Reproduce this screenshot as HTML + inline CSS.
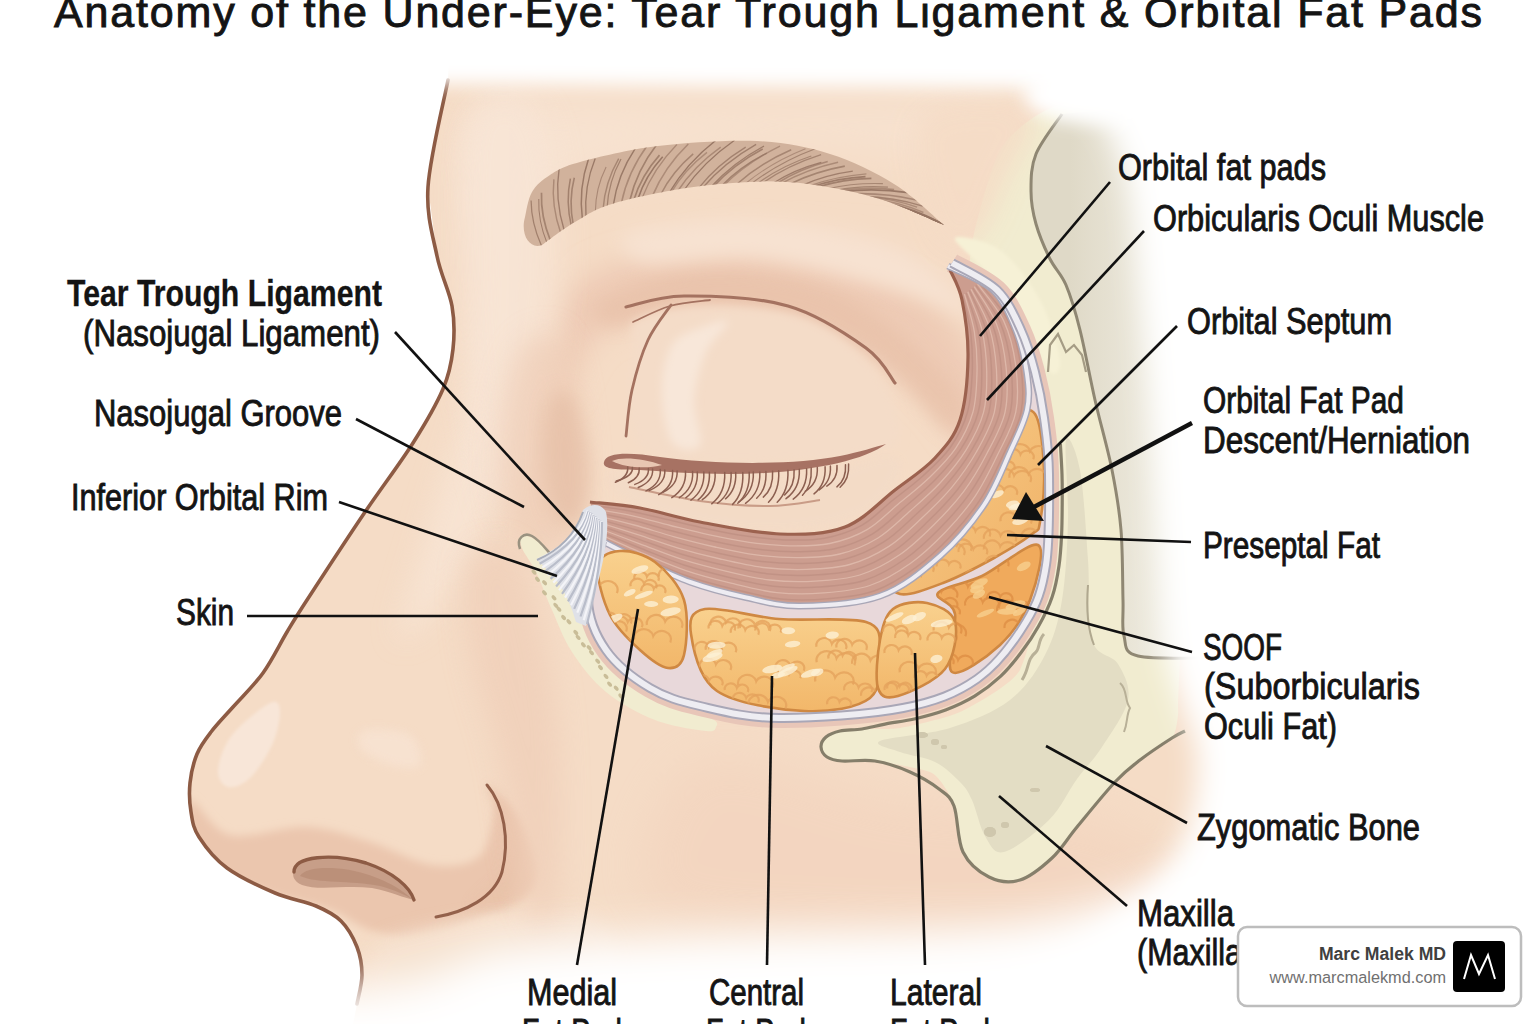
<!DOCTYPE html>
<html><head><meta charset="utf-8"><style>
html,body{margin:0;padding:0;background:#fff;width:1536px;height:1024px;overflow:hidden}
svg{display:block}
</style></head><body>
<svg width="1536" height="1024" viewBox="0 0 1536 1024">
<rect width="1536" height="1024" fill="#fff"/>
<defs>
<clipPath id="skinclip"><path d="M2000,-100 L448,-100 L450,20 L448,80 L428,187 L437,256 L452,306 L453,349 L443,389 L413,443 L363,515 L307,600 L287,632 L263,673 L233,707 L211,732 L197,754 L190,783 L191,812 L199,837 L227,868 L275,893 L316,906 L341,921 L357,947 L362,975 L357,1004 L350,1040 L2000,1100 Z"/></clipPath>
<filter id="b30" x="-50%" y="-50%" width="200%" height="200%"><feGaussianBlur stdDeviation="22"/></filter>
<filter id="b16" x="-50%" y="-50%" width="200%" height="200%"><feGaussianBlur stdDeviation="14"/></filter>
<filter id="b10" x="-30%" y="-30%" width="160%" height="160%"><feGaussianBlur stdDeviation="9"/></filter>
<filter id="b5" x="-30%" y="-30%" width="160%" height="160%"><feGaussianBlur stdDeviation="4"/></filter>
<filter id="b2" x="-30%" y="-30%" width="160%" height="160%"><feGaussianBlur stdDeviation="1.5"/></filter>
<linearGradient id="ug" gradientUnits="userSpaceOnUse" x1="1070" y1="0" x2="1170" y2="0"><stop offset="0" stop-color="#dfd9c7"/><stop offset="1" stop-color="#f0ede2"/></linearGradient>
<linearGradient id="fatg" x1="0" y1="0" x2="0" y2="1"><stop offset="0" stop-color="#f9d18e"/><stop offset="1" stop-color="#f2b76a"/></linearGradient>
<linearGradient id="fatg2" x1="0" y1="0" x2="1" y2="1"><stop offset="0" stop-color="#f8cf8c"/><stop offset="1" stop-color="#f0b065"/></linearGradient>
</defs>
<g clip-path="url(#skinclip)">
<rect x="0" y="0" width="1300" height="1024" fill="#f5dcc6"/>
<path d="M480.0,110.0 C516.7,83.3 616.7,100.0 700.0,100.0 C783.3,100.0 926.7,98.3 980.0,110.0 C1033.3,121.7 1025.0,161.7 1020.0,170.0 C1015.0,178.3 993.3,163.3 950.0,160.0 C906.7,156.7 825.0,145.0 760.0,150.0 C695.0,155.0 606.7,171.7 560.0,190.0 C513.3,208.3 493.3,273.3 480.0,260.0 C466.7,246.7 443.3,136.7 480.0,110.0Z" fill="#f7e2d0" filter="url(#b30)"/>
<path d="M470.0,130.0 C476.7,108.3 510.0,98.3 520.0,120.0 C530.0,141.7 530.8,208.3 530.0,260.0 C529.2,311.7 525.0,380.0 515.0,430.0 C505.0,480.0 489.2,525.0 470.0,560.0 C450.8,595.0 406.7,646.7 400.0,640.0 C393.3,633.3 418.3,563.3 430.0,520.0 C441.7,476.7 461.7,425.0 470.0,380.0 C478.3,335.0 480.0,291.7 480.0,250.0 C480.0,208.3 463.3,151.7 470.0,130.0Z" fill="#f8e5d5" filter="url(#b16)" opacity="0.8"/>
<path d="M570.0,290.0 C591.7,265.0 646.7,255.3 690.0,250.0 C733.3,244.7 790.0,249.7 830.0,258.0 C870.0,266.3 904.2,279.7 930.0,300.0 C955.8,320.3 977.5,355.0 985.0,380.0 C992.5,405.0 985.8,448.3 975.0,450.0 C964.2,451.7 945.8,410.0 920.0,390.0 C894.2,370.0 856.7,343.0 820.0,330.0 C783.3,317.0 736.7,311.2 700.0,312.0 C663.3,312.8 623.3,320.3 600.0,335.0 C576.7,349.7 565.0,407.5 560.0,400.0 C555.0,392.5 548.3,315.0 570.0,290.0Z" fill="#eecbb5" filter="url(#b16)"/>
<path d="M600.0,302.0 C613.0,293.0 656.7,275.7 690.0,272.0 C723.3,268.3 768.3,272.3 800.0,280.0 C831.7,287.7 853.3,298.7 880.0,318.0 C906.7,337.3 948.3,377.0 960.0,396.0 C971.7,415.0 963.3,437.7 950.0,432.0 C936.7,426.3 906.7,381.0 880.0,362.0 C853.3,343.0 821.7,327.3 790.0,318.0 C758.3,308.7 719.7,304.7 690.0,306.0 C660.3,307.3 627.0,326.7 612.0,326.0 C597.0,325.3 587.0,311.0 600.0,302.0Z" fill="#e8c1a9" filter="url(#b10)" opacity="0.75"/>
<path d="M470.0,110.0 C483.3,86.7 525.0,86.7 540.0,110.0 C555.0,133.3 560.0,198.3 560.0,250.0 C560.0,301.7 550.0,375.0 540.0,420.0 C530.0,465.0 511.7,523.3 500.0,520.0 C488.3,516.7 476.7,445.0 470.0,400.0 C463.3,355.0 460.0,298.3 460.0,250.0 C460.0,201.7 456.7,133.3 470.0,110.0Z" fill="#f8e5d6" filter="url(#b16)" opacity="0.7"/>
<path d="M630.0,232.0 C649.2,225.0 715.0,217.0 760.0,220.0 C805.0,223.0 864.2,233.7 900.0,250.0 C935.8,266.3 974.2,311.0 975.0,318.0 C975.8,325.0 940.8,302.0 905.0,292.0 C869.2,282.0 803.3,263.0 760.0,258.0 C716.7,253.0 666.7,266.3 645.0,262.0 C623.3,257.7 610.8,239.0 630.0,232.0Z" fill="#f7e2d1" filter="url(#b10)"/>
<path d="M640.0,318.0 C654.7,310.3 691.7,305.7 720.0,306.0 C748.3,306.3 784.0,309.3 810.0,320.0 C836.0,330.7 861.0,351.7 876.0,370.0 C891.0,388.3 899.3,416.3 900.0,430.0 C900.7,443.7 900.0,446.7 880.0,452.0 C860.0,457.3 816.7,461.0 780.0,462.0 C743.3,463.0 685.0,465.0 660.0,458.0 C635.0,451.0 634.7,437.7 630.0,420.0 C625.3,402.3 630.3,369.0 632.0,352.0 C633.7,335.0 625.3,325.7 640.0,318.0Z" fill="#f4dcc8" filter="url(#b5)"/>
<path d="M700.0,328.0 C709.3,324.2 727.0,318.0 728.0,322.0 C729.0,326.0 711.7,339.0 706.0,352.0 C700.3,365.0 695.0,384.5 694.0,400.0 C693.0,415.5 703.7,438.0 700.0,445.0 C696.3,452.0 678.3,451.2 672.0,442.0 C665.7,432.8 662.0,406.2 662.0,390.0 C662.0,373.8 665.7,355.3 672.0,345.0 C678.3,334.7 690.7,331.8 700.0,328.0Z" fill="#f8e7d9" filter="url(#b5)"/>
<path d="M610.0,475.0 C618.3,470.3 668.3,480.8 700.0,482.0 C731.7,483.2 770.0,486.0 800.0,482.0 C830.0,478.0 863.3,460.0 880.0,458.0 C896.7,456.0 903.3,460.5 900.0,470.0 C896.7,479.5 883.3,505.0 860.0,515.0 C836.7,525.0 795.0,530.8 760.0,530.0 C725.0,529.2 675.0,519.2 650.0,510.0 C625.0,500.8 601.7,479.7 610.0,475.0Z" fill="#f3dbc7" filter="url(#b5)" opacity="0.9"/>
<path d="M520.0,350.0 C530.0,335.0 550.0,326.7 560.0,340.0 C570.0,353.3 576.7,400.0 580.0,430.0 C583.3,460.0 586.7,498.3 580.0,520.0 C573.3,541.7 552.5,560.0 540.0,560.0 C527.5,560.0 511.7,541.7 505.0,520.0 C498.3,498.3 497.5,458.3 500.0,430.0 C502.5,401.7 510.0,365.0 520.0,350.0Z" fill="#edc9b2" filter="url(#b16)" opacity="0.6"/>
<path d="M548.0,405.0 C552.7,392.5 565.3,385.8 572.0,395.0 C578.7,404.2 586.3,440.0 588.0,460.0 C589.7,480.0 587.0,505.0 582.0,515.0 C577.0,525.0 564.3,527.5 558.0,520.0 C551.7,512.5 545.7,489.2 544.0,470.0 C542.3,450.8 543.3,417.5 548.0,405.0Z" fill="#e6c0a7" filter="url(#b10)" opacity="0.8"/>
<path d="M270.0,703.0 C278.0,699.2 279.7,705.0 280.0,712.0 C280.3,719.0 277.0,734.0 272.0,745.0 C267.0,756.0 257.3,771.0 250.0,778.0 C242.7,785.0 233.3,788.3 228.0,787.0 C222.7,785.7 217.3,778.7 218.0,770.0 C218.7,761.3 223.3,746.2 232.0,735.0 C240.7,723.8 262.0,706.8 270.0,703.0Z" fill="#f8e6d8" filter="url(#b2)"/>
<path d="M365.0,730.0 C373.3,727.8 400.8,729.2 410.0,735.0 C419.2,740.8 423.3,760.0 420.0,765.0 C416.7,770.0 400.0,767.8 390.0,765.0 C380.0,762.2 364.2,753.8 360.0,748.0 C355.8,742.2 356.7,732.2 365.0,730.0Z" fill="#f8e4d4" filter="url(#b5)" opacity="0.7"/>
<path d="M190.0,800.0 C195.0,795.8 210.5,830.5 230.0,835.0 C249.5,839.5 283.7,825.8 307.0,827.0 C330.3,828.2 349.0,835.7 370.0,842.0 C391.0,848.3 414.5,862.8 433.0,865.0 C451.5,867.2 469.8,865.8 481.0,855.0 C492.2,844.2 493.5,800.8 500.0,800.0 C506.5,799.2 520.0,832.5 520.0,850.0 C520.0,867.5 516.7,890.8 500.0,905.0 C483.3,919.2 441.7,930.8 420.0,935.0 C398.3,939.2 385.0,934.2 370.0,930.0 C355.0,925.8 348.3,916.7 330.0,910.0 C311.7,903.3 281.7,898.3 260.0,890.0 C238.3,881.7 211.7,875.0 200.0,860.0 C188.3,845.0 185.0,804.2 190.0,800.0Z" fill="#ebc6ae" filter="url(#b5)"/>
<path d="M487.0,785.0 C489.5,783.3 512.0,804.2 520.0,820.0 C528.0,835.8 537.5,865.0 535.0,880.0 C532.5,895.0 515.8,905.8 505.0,910.0 C494.2,914.2 470.8,911.7 470.0,905.0 C469.2,898.3 494.2,882.5 500.0,870.0 C505.8,857.5 507.2,844.2 505.0,830.0 C502.8,815.8 484.5,786.7 487.0,785.0Z" fill="#e9c3aa" filter="url(#b5)" opacity="0.85"/>
<path d="M375.0,950.0 C381.7,938.3 395.8,935.8 420.0,930.0 C444.2,924.2 490.0,916.7 520.0,915.0 C550.0,913.3 586.7,905.8 600.0,920.0 C613.3,934.2 636.7,986.7 600.0,1000.0 C563.3,1013.3 417.5,1008.3 380.0,1000.0 C342.5,991.7 368.3,961.7 375.0,950.0Z" fill="#f6e1cf" filter="url(#b10)" opacity="0.9"/>
<path d="M470.0,560.0 C478.3,545.0 505.8,536.7 520.0,560.0 C534.2,583.3 548.3,650.0 555.0,700.0 C561.7,750.0 561.7,821.7 560.0,860.0 C558.3,898.3 551.7,926.7 545.0,930.0 C538.3,933.3 527.5,908.3 520.0,880.0 C512.5,851.7 508.3,798.3 500.0,760.0 C491.7,721.7 475.0,683.3 470.0,650.0 C465.0,616.7 461.7,575.0 470.0,560.0Z" fill="#efcdb7" filter="url(#b16)" opacity="0.7"/>
<path d="M700.0,760.0 C741.7,743.3 833.3,790.0 900.0,800.0 C966.7,810.0 1053.3,806.7 1100.0,820.0 C1146.7,833.3 1180.0,861.7 1180.0,880.0 C1180.0,898.3 1155.0,921.7 1100.0,930.0 C1045.0,938.3 925.0,935.0 850.0,930.0 C775.0,925.0 675.0,928.3 650.0,900.0 C625.0,871.7 658.3,776.7 700.0,760.0Z" fill="#f1cdb8" filter="url(#b30)" opacity="0.4"/>
</g>
<path d="M970.0,262.0 C969.0,244.0 991.0,165.7 1000.0,150.0 C1009.0,134.3 1039.0,109.5 1060.0,105.0 C1081.0,100.5 1198.0,49.5 1210.0,105.0 C1222.0,160.5 1183.2,599.0 1180.0,660.0 C1176.8,721.0 1178.8,707.2 1178.0,715.0 C1177.2,722.8 1175.8,733.5 1172.0,738.0 C1168.2,742.5 1145.7,755.6 1140.0,760.0 C1134.3,764.4 1121.3,775.3 1115.0,782.0 C1108.7,788.7 1083.3,819.4 1077.0,827.0 C1070.7,834.6 1057.7,852.7 1052.0,858.0 C1046.3,863.3 1026.3,878.1 1020.0,880.0 C1013.7,881.9 994.7,879.8 989.0,877.0 C983.3,874.2 966.5,859.3 963.0,852.0 C959.5,844.7 957.1,811.9 954.0,804.0 C950.9,796.1 939.9,777.3 932.0,773.0 C924.1,768.7 884.0,762.2 875.0,761.0 C866.0,759.8 846.8,761.4 842.0,761.0 C837.2,760.6 829.1,758.4 827.0,757.0 C824.9,755.6 821.1,749.0 821.0,747.0 C820.9,745.0 824.1,738.6 826.0,737.0 C827.9,735.4 836.4,731.8 840.0,731.0 C843.6,730.2 856.0,729.3 862.0,729.0 C868.0,728.7 890.2,729.7 900.0,728.0 C909.8,726.3 948.0,717.8 960.0,712.0 C972.0,706.2 1011.2,685.2 1020.0,670.0 C1028.8,654.8 1045.2,580.0 1048.0,560.0 C1050.8,540.0 1048.8,486.0 1048.0,470.0 C1047.2,454.0 1043.8,414.0 1040.0,400.0 C1036.2,386.0 1017.0,343.8 1010.0,330.0 C1003.0,316.2 971.0,280.0 970.0,262.0Z" fill="#f1ecd0"/>
<path d="M920.0,120.0 C935.0,99.2 1015.8,100.0 1030.0,110.0 C1044.2,120.0 1014.2,158.3 1005.0,180.0 C995.8,201.7 985.8,230.8 975.0,240.0 C964.2,249.2 949.2,255.0 940.0,235.0 C930.8,215.0 905.0,140.8 920.0,120.0Z" fill="#f5dcc6" filter="url(#b16)" opacity="0.9"/>
<path d="M1062.0,114.0 C1057.7,120.7 1041.2,141.2 1036.0,154.0 C1030.8,166.8 1031.0,179.3 1031.0,191.0 C1031.0,202.7 1032.8,212.7 1036.0,224.0 C1039.2,235.3 1045.0,248.8 1050.0,259.0 C1055.0,269.2 1061.0,273.2 1066.0,285.0 C1071.0,296.8 1075.2,310.8 1080.0,330.0 C1084.8,349.2 1089.7,376.7 1095.0,400.0 C1100.3,423.3 1107.7,448.3 1112.0,470.0 C1116.3,491.7 1119.2,508.3 1121.0,530.0 C1122.8,551.7 1122.5,582.3 1123.0,600.0 C1123.5,617.7 1121.5,626.7 1124.0,636.0 C1126.5,645.3 1122.8,652.3 1138.0,656.0 C1153.2,659.7 1202.2,657.7 1215.0,658.0 L1215,100 Z" fill="url(#ug)"/>
<path d="M1062.0,114.0 C1057.7,120.7 1041.2,141.2 1036.0,154.0 C1030.8,166.8 1031.0,179.3 1031.0,191.0 C1031.0,202.7 1032.8,212.7 1036.0,224.0 C1039.2,235.3 1045.0,248.8 1050.0,259.0 C1055.0,269.2 1061.0,273.2 1066.0,285.0 C1071.0,296.8 1075.2,310.8 1080.0,330.0 C1084.8,349.2 1089.7,376.7 1095.0,400.0 C1100.3,423.3 1107.7,448.3 1112.0,470.0 C1116.3,491.7 1119.2,508.3 1121.0,530.0 C1122.8,551.7 1122.5,582.3 1123.0,600.0 C1123.5,617.7 1121.5,626.7 1124.0,636.0 C1126.5,645.3 1122.8,652.3 1138.0,656.0 C1153.2,659.7 1202.2,657.7 1215.0,658.0" fill="none" stroke="#8f8773" stroke-width="3"/>
<path d="M880.0,741.0 C888.3,737.0 928.3,734.8 950.0,728.0 C971.7,721.2 994.2,712.2 1010.0,700.0 C1025.8,687.8 1036.3,671.7 1045.0,655.0 C1053.7,638.3 1058.2,622.5 1062.0,600.0 C1065.8,577.5 1067.3,546.7 1068.0,520.0 C1068.7,493.3 1064.0,448.3 1066.0,440.0 C1068.0,431.7 1076.3,450.0 1080.0,470.0 C1083.7,490.0 1086.0,531.7 1088.0,560.0 C1090.0,588.3 1087.0,622.7 1092.0,640.0 C1097.0,657.3 1112.0,654.0 1118.0,664.0 C1124.0,674.0 1130.7,686.2 1128.0,700.0 C1125.3,713.8 1110.5,733.8 1102.0,747.0 C1093.5,760.2 1085.8,766.8 1077.0,779.0 C1068.2,791.2 1061.2,807.8 1049.0,820.0 C1036.8,832.2 1014.7,849.3 1004.0,852.0 C993.3,854.7 990.3,844.7 985.0,836.0 C979.7,827.3 976.2,809.0 972.0,800.0 C967.8,791.0 966.2,788.3 960.0,782.0 C953.8,775.7 945.0,767.0 935.0,762.0 C925.0,757.0 909.2,755.5 900.0,752.0 C890.8,748.5 871.7,745.0 880.0,741.0Z" fill="#e3ddc4"/>
<path d="M1088,585 C1086,610 1088,630 1094,645" stroke="#b0a88f" stroke-width="2" fill="none"/>
<path d="M1022,680 C1030,668 1026,660 1036,652 C1040,648 1038,640 1044,634" stroke="#b8b097" stroke-width="3" fill="none"/>
<path d="M1120,683 C1128,690 1124,700 1130,708 C1126,716 1128,722 1124,732" stroke="#b8b097" stroke-width="2" fill="none"/>
<path d="M955.0,238.0 C957.5,234.7 985.8,239.7 1000.0,250.0 C1014.2,260.3 1030.0,281.7 1040.0,300.0 C1050.0,318.3 1058.7,348.3 1060.0,360.0 C1061.3,371.7 1054.7,378.3 1048.0,370.0 C1041.3,361.7 1030.5,326.7 1020.0,310.0 C1009.5,293.3 995.8,282.0 985.0,270.0 C974.2,258.0 952.5,241.3 955.0,238.0Z" fill="#f6f1d6" filter="url(#b2)"/>
<path d="M1048,372 L1050,345 L1058,334 L1066,352 L1074,345 L1082,355 L1086,372" fill="none" stroke="#a59c85" stroke-width="2.2"/>
<ellipse cx="922" cy="735" rx="6" ry="3" fill="#cfc7ad"/>
<ellipse cx="935" cy="742" rx="4" ry="3" fill="#cfc7ad"/>
<ellipse cx="944" cy="747" rx="3" ry="2" fill="#cfc7ad"/>
<ellipse cx="990" cy="832" rx="6" ry="5" fill="#cfc7ad"/>
<ellipse cx="1005" cy="825" rx="4" ry="3" fill="#cfc7ad"/>
<ellipse cx="1035" cy="790" rx="5" ry="2" fill="#cfc7ad"/>
<ellipse cx="922" cy="735" rx="6" ry="3" fill="#cfc7ad"/>
<ellipse cx="935" cy="742" rx="4" ry="3" fill="#cfc7ad"/>
<ellipse cx="944" cy="747" rx="3" ry="2" fill="#cfc7ad"/>
<ellipse cx="990" cy="832" rx="6" ry="5" fill="#cfc7ad"/>
<ellipse cx="1005" cy="825" rx="4" ry="3" fill="#cfc7ad"/>
<ellipse cx="1035" cy="790" rx="5" ry="2" fill="#cfc7ad"/>
<clipPath id="browclip"><path d="M525.0,217.0 C526.2,212.8 527.8,199.0 532.0,192.0 C536.2,185.0 542.0,180.0 550.0,175.0 C558.0,170.0 562.0,166.8 580.0,162.0 C598.0,157.2 628.5,149.5 658.0,146.0 C687.5,142.5 728.3,139.7 757.0,141.0 C785.7,142.3 807.2,146.8 830.0,154.0 C852.8,161.2 875.0,172.2 894.0,184.0 C913.0,195.8 935.7,218.2 944.0,225.0 L944.0,225.0 C932.2,220.3 899.2,204.2 873.0,197.0 C846.8,189.8 815.7,183.8 787.0,182.0 C758.3,180.2 729.7,182.5 701.0,186.0 C672.3,189.5 636.0,197.0 615.0,203.0 C594.0,209.0 587.2,215.0 575.0,222.0 C562.8,229.0 547.5,241.2 542.0,245.0 C530,250 520,235 525,217 Z"/></clipPath>
<path d="M525.0,217.0 C526.2,212.8 527.8,199.0 532.0,192.0 C536.2,185.0 542.0,180.0 550.0,175.0 C558.0,170.0 562.0,166.8 580.0,162.0 C598.0,157.2 628.5,149.5 658.0,146.0 C687.5,142.5 728.3,139.7 757.0,141.0 C785.7,142.3 807.2,146.8 830.0,154.0 C852.8,161.2 875.0,172.2 894.0,184.0 C913.0,195.8 935.7,218.2 944.0,225.0 L944.0,225.0 C932.2,220.3 899.2,204.2 873.0,197.0 C846.8,189.8 815.7,183.8 787.0,182.0 C758.3,180.2 729.7,182.5 701.0,186.0 C672.3,189.5 636.0,197.0 615.0,203.0 C594.0,209.0 587.2,215.0 575.0,222.0 C562.8,229.0 547.5,241.2 542.0,245.0 C530,250 520,235 525,217 Z" fill="#d1b29c"/>
<g clip-path="url(#browclip)">
<path d="M542.0,247.0 Q531.2,223.3 531.1,200.5" stroke="#967563" stroke-width="1.26" fill="none" opacity="0.81"/>
<path d="M547.1,243.2 Q537.9,220.5 538.8,198.9" stroke="#967563" stroke-width="1.01" fill="none" opacity="0.89"/>
<path d="M550.5,240.7 Q540.5,216.2 541.5,192.8" stroke="#967563" stroke-width="1.70" fill="none" opacity="0.76"/>
<path d="M560.8,233.2 Q551.1,205.6 553.9,179.3" stroke="#967563" stroke-width="1.45" fill="none" opacity="0.65"/>
<path d="M564.3,230.8 Q554.5,199.1 559.1,168.9" stroke="#967563" stroke-width="1.37" fill="none" opacity="0.86"/>
<path d="M571.4,226.2 Q565.5,201.4 570.4,178.6" stroke="#967563" stroke-width="1.53" fill="none" opacity="0.81"/>
<path d="M573.3,225.1 Q568.4,200.4 574.3,177.8" stroke="#967563" stroke-width="1.61" fill="none" opacity="0.77"/>
<path d="M582.4,219.6 Q578.4,188.0 588.5,159.0" stroke="#967563" stroke-width="1.50" fill="none" opacity="0.92"/>
<path d="M586.0,217.4 Q583.8,186.5 595.2,158.6" stroke="#967563" stroke-width="1.31" fill="none" opacity="0.93"/>
<path d="M595.3,212.3 Q595.5,188.1 606.1,167.0" stroke="#967563" stroke-width="1.10" fill="none" opacity="0.68"/>
<path d="M603.1,209.0 Q605.1,182.1 618.7,158.7" stroke="#967563" stroke-width="1.44" fill="none" opacity="0.71"/>
<path d="M607.1,207.5 Q608.5,181.5 621.0,159.0" stroke="#967563" stroke-width="1.25" fill="none" opacity="0.80"/>
<path d="M613.2,205.6 Q617.6,174.9 635.3,148.4" stroke="#967563" stroke-width="1.48" fill="none" opacity="0.93"/>
<path d="M621.3,203.3 Q627.8,171.8 647.7,145.0" stroke="#967563" stroke-width="1.47" fill="none" opacity="0.66"/>
<path d="M629.6,201.2 Q636.7,170.3 657.0,144.2" stroke="#967563" stroke-width="1.63" fill="none" opacity="0.80"/>
<path d="M633.7,200.2 Q641.4,175.4 659.5,155.1" stroke="#967563" stroke-width="1.58" fill="none" opacity="0.80"/>
<path d="M637.8,199.3 Q645.4,175.8 662.7,156.8" stroke="#967563" stroke-width="1.60" fill="none" opacity="0.95"/>
<path d="M642.0,198.3 Q653.2,168.7 676.9,144.5" stroke="#967563" stroke-width="1.29" fill="none" opacity="0.65"/>
<path d="M652.4,196.1 Q664.3,167.3 688.3,144.0" stroke="#967563" stroke-width="1.61" fill="none" opacity="0.62"/>
<path d="M660.7,194.5 Q672.3,171.6 693.2,153.9" stroke="#967563" stroke-width="1.50" fill="none" opacity="0.72"/>
<path d="M669.1,192.9 Q686.9,162.6 717.2,139.2" stroke="#967563" stroke-width="1.35" fill="none" opacity="0.95"/>
<path d="M671.1,192.6 Q684.5,169.7 707.0,152.4" stroke="#967563" stroke-width="1.42" fill="none" opacity="0.61"/>
<path d="M677.4,191.5 Q694.0,166.1 720.7,147.1" stroke="#967563" stroke-width="1.43" fill="none" opacity="0.65"/>
<path d="M683.7,190.5 Q703.4,161.8 734.6,140.2" stroke="#967563" stroke-width="1.22" fill="none" opacity="0.94"/>
<path d="M698.4,188.3 Q717.3,164.4 745.7,147.1" stroke="#967563" stroke-width="1.32" fill="none" opacity="0.78"/>
<path d="M702.6,187.8 Q724.4,162.4 756.1,144.4" stroke="#967563" stroke-width="1.39" fill="none" opacity="0.82"/>
<path d="M711.1,186.8 Q732.9,162.8 764.0,146.1" stroke="#967563" stroke-width="1.30" fill="none" opacity="0.85"/>
<path d="M713.2,186.6 Q733.6,164.3 762.7,148.9" stroke="#967563" stroke-width="1.68" fill="none" opacity="0.78"/>
<path d="M721.6,185.7 Q740.5,166.2 766.8,153.1" stroke="#967563" stroke-width="1.29" fill="none" opacity="0.80"/>
<path d="M723.7,185.5 Q747.4,162.0 780.0,146.1" stroke="#967563" stroke-width="1.44" fill="none" opacity="0.62"/>
<path d="M736.4,184.5 Q759.9,163.4 791.2,149.8" stroke="#967563" stroke-width="1.48" fill="none" opacity="0.72"/>
<path d="M744.9,184.0 Q771.2,162.3 805.5,148.7" stroke="#967563" stroke-width="1.02" fill="none" opacity="0.62"/>
<path d="M751.3,183.7 Q779.9,161.7 816.6,148.2" stroke="#967563" stroke-width="1.18" fill="none" opacity="0.76"/>
<path d="M757.6,183.5 Q781.4,166.0 811.3,156.0" stroke="#967563" stroke-width="1.25" fill="none" opacity="0.71"/>
<path d="M761.9,183.4 Q788.3,165.1 821.1,154.7" stroke="#967563" stroke-width="1.21" fill="none" opacity="0.73"/>
<path d="M772.5,183.5 Q794.6,169.5 821.3,162.4" stroke="#967563" stroke-width="1.40" fill="none" opacity="0.86"/>
<path d="M776.7,183.5 Q799.8,169.0 827.7,161.6" stroke="#967563" stroke-width="1.56" fill="none" opacity="0.68"/>
<path d="M781.0,183.7 Q807.2,169.1 838.1,162.3" stroke="#967563" stroke-width="1.49" fill="none" opacity="0.64"/>
<path d="M789.5,184.2 Q815.2,171.4 844.8,166.1" stroke="#967563" stroke-width="1.58" fill="none" opacity="0.75"/>
<path d="M802.1,185.4 Q826.0,174.8 852.8,171.2" stroke="#967563" stroke-width="1.24" fill="none" opacity="0.83"/>
<path d="M808.5,186.1 Q836.2,176.1 866.4,173.8" stroke="#967563" stroke-width="1.16" fill="none" opacity="0.64"/>
<path d="M812.7,186.6 Q838.1,178.0 865.5,176.6" stroke="#967563" stroke-width="1.56" fill="none" opacity="0.89"/>
<path d="M816.9,187.2 Q843.3,179.1 871.4,178.4" stroke="#967563" stroke-width="1.57" fill="none" opacity="0.82"/>
<path d="M827.4,188.9 Q854.8,182.5 882.9,183.6" stroke="#967563" stroke-width="1.09" fill="none" opacity="0.70"/>
<path d="M835.7,190.4 Q861.6,185.2 887.9,187.2" stroke="#967563" stroke-width="1.24" fill="none" opacity="0.75"/>
<path d="M837.8,190.8 Q866.1,186.4 894.1,189.6" stroke="#967563" stroke-width="1.64" fill="none" opacity="0.65"/>
<path d="M842.0,191.6 Q875.5,187.8 908.2,192.6" stroke="#967563" stroke-width="1.62" fill="none" opacity="0.95"/>
<path d="M852.4,193.8 Q886.0,192.8 917.6,200.2" stroke="#967563" stroke-width="1.65" fill="none" opacity="0.68"/>
<path d="M862.7,196.3 Q894.1,197.2 922.7,206.1" stroke="#967563" stroke-width="1.46" fill="none" opacity="0.78"/>
<path d="M864.7,196.8 Q892.4,198.4 917.1,207.1" stroke="#967563" stroke-width="1.16" fill="none" opacity="0.62"/>
<path d="M873.0,199.0 Q900.1,202.2 923.4,212.5" stroke="#967563" stroke-width="1.57" fill="none" opacity="0.62"/>
<path d="M883.1,202.1 Q914.1,208.4 939.7,222.5" stroke="#967563" stroke-width="1.65" fill="none" opacity="0.91"/>
<path d="M889.1,204.2 Q917.0,210.2 939.8,223.2" stroke="#967563" stroke-width="1.01" fill="none" opacity="0.86"/>
<path d="M891.1,204.9 Q915.6,210.0 935.5,221.5" stroke="#967563" stroke-width="1.46" fill="none" opacity="0.78"/>
<path d="M899.1,207.9 Q924.6,213.4 945.4,225.6" stroke="#967563" stroke-width="1.43" fill="none" opacity="0.72"/>
<path d="M903.0,209.5 Q925.8,214.2 944.3,225.1" stroke="#967563" stroke-width="1.33" fill="none" opacity="0.87"/>
<path d="M910.9,212.7 Q925.7,215.1 937.7,222.3" stroke="#967563" stroke-width="1.37" fill="none" opacity="0.89"/>
<path d="M916.7,215.2 Q931.6,217.7 943.7,224.9" stroke="#967563" stroke-width="1.65" fill="none" opacity="0.88"/>
<path d="M928.4,220.3 Q934.9,220.2 940.1,223.3" stroke="#967563" stroke-width="1.44" fill="none" opacity="0.90"/>
<path d="M928.4,220.3 Q935.6,220.4 941.4,223.9" stroke="#967563" stroke-width="1.19" fill="none" opacity="0.78"/>
</g>
<path d="M626.0,307.0 C635.7,305.2 657.0,296.2 684.0,296.0 C711.0,295.8 757.7,297.3 788.0,306.0 C818.3,314.7 848.2,335.2 866.0,348.0 C883.8,360.8 890.2,377.2 895.0,383.0" fill="none" stroke="#a47260" stroke-width="3.2" stroke-linecap="round"/>
<path d="M633.0,322.0 C639.2,319.3 657.2,309.7 670.0,306.0 C682.8,302.3 703.3,301.0 710.0,300.0" fill="none" stroke="#a47260" stroke-width="1.8" stroke-linecap="round"/>
<path d="M671.0,305.0 C667.2,310.8 654.5,325.8 648.0,340.0 C641.5,354.2 635.7,374.0 632.0,390.0 C628.3,406.0 627.0,428.3 626.0,436.0" fill="none" stroke="#a47260" stroke-width="2.8" stroke-linecap="round"/>
<path d="M604,462 C606,452 630,452 660,457 C710,464 790,466 840,456 C860,452 875,447 886,444 C862,462 800,474 730,474 C690,474 660,471 640,470 C615,470 602,469 604,462 Z" fill="#a77263"/>
<path d="M612,461 C622,456 645,459 662,465 C648,469 625,468 612,461Z" fill="#e8c6b2"/>
<path d="M629.0,487.0 C640.8,489.3 676.5,497.8 700.0,501.0 C723.5,504.2 750.0,506.2 770.0,506.0 C790.0,505.8 811.7,501.0 820.0,500.0" fill="none" stroke="#c99c87" stroke-width="2"/>
<path d="M627.7,467.0 q1.0,10.0 -12.3,15.3" stroke="#8c5f50" stroke-width="1.5" fill="none" stroke-linecap="round"/>
<path d="M632.4,467.5 q1.0,8.7 -16.1,13.5" stroke="#8c5f50" stroke-width="1.5" fill="none" stroke-linecap="round"/>
<path d="M639.2,468.1 q1.0,9.5 -10.9,14.6" stroke="#8c5f50" stroke-width="1.5" fill="none" stroke-linecap="round"/>
<path d="M648.4,468.6 q1.0,10.3 -13.6,15.8" stroke="#8c5f50" stroke-width="1.5" fill="none" stroke-linecap="round"/>
<path d="M652.6,469.1 q1.0,12.0 -14.4,18.4" stroke="#8c5f50" stroke-width="1.5" fill="none" stroke-linecap="round"/>
<path d="M660.3,469.6 q1.0,13.9 -14.3,21.3" stroke="#8c5f50" stroke-width="1.5" fill="none" stroke-linecap="round"/>
<path d="M664.8,470.1 q1.0,13.3 -15.6,20.5" stroke="#8c5f50" stroke-width="1.5" fill="none" stroke-linecap="round"/>
<path d="M672.6,470.5 q1.0,15.7 -13.9,24.1" stroke="#8c5f50" stroke-width="1.5" fill="none" stroke-linecap="round"/>
<path d="M677.1,470.9 q1.0,13.8 -13.8,21.3" stroke="#8c5f50" stroke-width="1.5" fill="none" stroke-linecap="round"/>
<path d="M685.5,471.3 q1.0,17.1 -13.7,26.4" stroke="#8c5f50" stroke-width="1.5" fill="none" stroke-linecap="round"/>
<path d="M692.6,471.6 q1.0,16.9 -13.3,26.0" stroke="#8c5f50" stroke-width="1.5" fill="none" stroke-linecap="round"/>
<path d="M697.3,471.9 q1.0,16.8 -11.5,25.9" stroke="#8c5f50" stroke-width="1.5" fill="none" stroke-linecap="round"/>
<path d="M703.8,472.1 q1.0,18.2 -12.9,28.0" stroke="#8c5f50" stroke-width="1.5" fill="none" stroke-linecap="round"/>
<path d="M709.4,472.3 q1.0,17.9 -11.3,27.5" stroke="#8c5f50" stroke-width="1.5" fill="none" stroke-linecap="round"/>
<path d="M715.1,472.5 q1.0,17.7 -12.8,27.2" stroke="#8c5f50" stroke-width="1.5" fill="none" stroke-linecap="round"/>
<path d="M724.7,472.5 q1.0,20.3 -13.0,31.3" stroke="#8c5f50" stroke-width="1.5" fill="none" stroke-linecap="round"/>
<path d="M731.1,472.6 q1.0,19.9 -13.6,30.7" stroke="#8c5f50" stroke-width="1.5" fill="none" stroke-linecap="round"/>
<path d="M735.7,472.5 q1.0,17.1 -10.2,26.3" stroke="#8c5f50" stroke-width="1.5" fill="none" stroke-linecap="round"/>
<path d="M742.8,472.5 q1.0,20.8 -10.2,31.9" stroke="#8c5f50" stroke-width="1.5" fill="none" stroke-linecap="round"/>
<path d="M749.2,472.3 q1.0,20.2 -11.4,31.0" stroke="#8c5f50" stroke-width="1.5" fill="none" stroke-linecap="round"/>
<path d="M753.3,472.1 q1.0,19.6 -14.7,30.1" stroke="#8c5f50" stroke-width="1.5" fill="none" stroke-linecap="round"/>
<path d="M759.8,471.9 q1.0,20.4 -14.3,31.4" stroke="#8c5f50" stroke-width="1.5" fill="none" stroke-linecap="round"/>
<path d="M765.9,471.6 q1.0,17.3 -9.2,26.6" stroke="#8c5f50" stroke-width="1.5" fill="none" stroke-linecap="round"/>
<path d="M772.6,471.2 q1.0,16.9 -9.3,25.9" stroke="#8c5f50" stroke-width="1.5" fill="none" stroke-linecap="round"/>
<path d="M778.7,470.8 q1.0,20.4 -10.2,31.4" stroke="#8c5f50" stroke-width="1.5" fill="none" stroke-linecap="round"/>
<path d="M787.9,470.3 q1.0,20.7 -10.7,31.9" stroke="#8c5f50" stroke-width="1.5" fill="none" stroke-linecap="round"/>
<path d="M794.1,469.8 q1.0,16.3 -9.4,25.1" stroke="#8c5f50" stroke-width="1.5" fill="none" stroke-linecap="round"/>
<path d="M799.3,469.3 q1.0,19.1 -13.3,29.4" stroke="#8c5f50" stroke-width="1.5" fill="none" stroke-linecap="round"/>
<path d="M806.6,468.7 q1.0,19.7 -13.4,30.4" stroke="#8c5f50" stroke-width="1.5" fill="none" stroke-linecap="round"/>
<path d="M811.2,468.1 q1.0,17.7 -8.7,27.2" stroke="#8c5f50" stroke-width="1.5" fill="none" stroke-linecap="round"/>
<path d="M817.3,467.5 q1.0,15.5 -12.1,23.8" stroke="#8c5f50" stroke-width="1.5" fill="none" stroke-linecap="round"/>
<path d="M825.1,466.8 q1.0,17.6 -11.1,27.1" stroke="#8c5f50" stroke-width="1.5" fill="none" stroke-linecap="round"/>
<path d="M830.4,466.1 q1.0,15.5 -11.2,23.8" stroke="#8c5f50" stroke-width="1.5" fill="none" stroke-linecap="round"/>
<path d="M837.0,465.4 q1.0,13.5 -10.2,20.8" stroke="#8c5f50" stroke-width="1.5" fill="none" stroke-linecap="round"/>
<path d="M845.5,464.7 q1.0,14.4 -8.6,22.2" stroke="#8c5f50" stroke-width="1.5" fill="none" stroke-linecap="round"/>
<path d="M848.6,464.0 q1.0,15.1 -8.5,23.2" stroke="#8c5f50" stroke-width="1.5" fill="none" stroke-linecap="round"/>
<path d="M522.0,535.0 C525.3,534.7 534.0,536.8 542.0,546.0 C550.0,555.2 561.7,574.3 570.0,590.0 C578.3,605.7 582.8,625.0 592.0,640.0 C601.2,655.0 612.0,669.2 625.0,680.0 C638.0,690.8 655.5,698.5 670.0,705.0 C684.5,711.5 704.3,715.3 712.0,719.0 C719.7,722.7 717.0,725.0 716.0,727.0 C715.0,729.0 716.2,732.2 706.0,731.0 C695.8,729.8 671.7,726.5 655.0,720.0 C638.3,713.5 619.8,703.3 606.0,692.0 C592.2,680.7 581.0,665.7 572.0,652.0 C563.0,638.3 558.0,623.3 552.0,610.0 C546.0,596.7 541.0,582.3 536.0,572.0 C531.0,561.7 524.3,554.2 522.0,548.0 C519.7,541.8 518.7,535.3 522.0,535.0Z" fill="#f1ecd0"/>
<path d="M520,549 C516,538 524,532 532,536 C540,540 548,552 556,560" fill="none" stroke="#9a9280" stroke-width="2.5"/>
<ellipse cx="534.0" cy="572.1" rx="3" ry="1.8" transform="rotate(50 534.0 572.1)" fill="#c9bd98"/>
<ellipse cx="537.5" cy="579.3" rx="3" ry="1.8" transform="rotate(50 537.5 579.3)" fill="#c9bd98"/>
<ellipse cx="544.6" cy="582.7" rx="3" ry="1.8" transform="rotate(50 544.6 582.7)" fill="#c9bd98"/>
<ellipse cx="544.5" cy="592.8" rx="3" ry="1.8" transform="rotate(50 544.5 592.8)" fill="#c9bd98"/>
<ellipse cx="554.0" cy="597.8" rx="3" ry="1.8" transform="rotate(50 554.0 597.8)" fill="#c9bd98"/>
<ellipse cx="555.8" cy="605.4" rx="3" ry="1.8" transform="rotate(50 555.8 605.4)" fill="#c9bd98"/>
<ellipse cx="558.9" cy="609.1" rx="3" ry="1.8" transform="rotate(50 558.9 609.1)" fill="#c9bd98"/>
<ellipse cx="563.6" cy="617.5" rx="3" ry="1.8" transform="rotate(50 563.6 617.5)" fill="#c9bd98"/>
<ellipse cx="568.9" cy="621.8" rx="3" ry="1.8" transform="rotate(50 568.9 621.8)" fill="#c9bd98"/>
<ellipse cx="575.8" cy="632.5" rx="3" ry="1.8" transform="rotate(50 575.8 632.5)" fill="#c9bd98"/>
<ellipse cx="578.1" cy="637.4" rx="3" ry="1.8" transform="rotate(50 578.1 637.4)" fill="#c9bd98"/>
<ellipse cx="583.4" cy="644.8" rx="3" ry="1.8" transform="rotate(50 583.4 644.8)" fill="#c9bd98"/>
<ellipse cx="589.1" cy="647.7" rx="3" ry="1.8" transform="rotate(50 589.1 647.7)" fill="#c9bd98"/>
<ellipse cx="591.5" cy="652.6" rx="3" ry="1.8" transform="rotate(50 591.5 652.6)" fill="#c9bd98"/>
<ellipse cx="597.7" cy="661.2" rx="3" ry="1.8" transform="rotate(50 597.7 661.2)" fill="#c9bd98"/>
<ellipse cx="600.5" cy="667.5" rx="3" ry="1.8" transform="rotate(50 600.5 667.5)" fill="#c9bd98"/>
<ellipse cx="606.0" cy="676.4" rx="3" ry="1.8" transform="rotate(50 606.0 676.4)" fill="#c9bd98"/>
<ellipse cx="609.6" cy="684.1" rx="3" ry="1.8" transform="rotate(50 609.6 684.1)" fill="#c9bd98"/>
<ellipse cx="616.2" cy="688.2" rx="3" ry="1.8" transform="rotate(50 616.2 688.2)" fill="#c9bd98"/>
<ellipse cx="620.8" cy="696.0" rx="3" ry="1.8" transform="rotate(50 620.8 696.0)" fill="#c9bd98"/>
<path d="M602.0,541.0 C599.7,550.8 587.3,581.8 588.0,600.0 C588.7,618.2 595.7,635.3 606.0,650.0 C616.3,664.7 634.3,678.7 650.0,688.0 C665.7,697.3 678.5,701.0 700.0,706.0 C721.5,711.0 745.2,717.7 779.0,718.0 C812.8,718.3 870.0,714.5 903.0,708.0 C936.0,701.5 956.5,693.3 977.0,679.0 C997.5,664.7 1014.5,641.0 1026.0,622.0 C1037.5,603.0 1042.2,589.7 1046.0,565.0 C1049.8,540.3 1049.3,498.5 1049.0,474.0 C1048.7,449.5 1046.3,435.0 1044.0,418.0 C1041.7,401.0 1038.8,386.7 1035.0,372.0 C1031.2,357.3 1027.3,343.7 1021.0,330.0 C1014.7,316.3 1008.5,301.2 997.0,290.0 C985.5,278.8 959.5,267.5 952.0,263.0" fill="none" stroke="#e8c6b8" stroke-width="20"/>
<path d="M602.0,541.0 C608.3,544.2 625.3,553.2 640.0,560.0 C654.7,566.8 672.7,575.8 690.0,582.0 C707.3,588.2 725.7,593.0 744.0,597.0 C762.3,601.0 777.3,606.2 800.0,606.0 C822.7,605.8 856.7,604.3 880.0,596.0 C903.3,587.7 922.7,571.2 940.0,556.0 C957.3,540.8 972.3,522.3 984.0,505.0 C995.7,487.7 1002.8,467.8 1010.0,452.0 C1017.2,436.2 1024.2,423.0 1027.0,410.0 C1029.8,397.0 1028.8,387.3 1027.0,374.0 C1025.2,360.7 1021.7,344.0 1016.0,330.0 C1010.3,316.0 1004.3,300.7 993.0,290.0 C981.7,279.3 955.5,270.0 948.0,266.0 L952.0,263.0 C959.5,267.5 985.5,278.8 997.0,290.0 C1008.5,301.2 1014.7,316.3 1021.0,330.0 C1027.3,343.7 1031.2,357.3 1035.0,372.0 C1038.8,386.7 1041.7,401.0 1044.0,418.0 C1046.3,435.0 1048.7,449.5 1049.0,474.0 C1049.3,498.5 1049.8,540.3 1046.0,565.0 C1042.2,589.7 1037.5,603.0 1026.0,622.0 C1014.5,641.0 997.5,664.7 977.0,679.0 C956.5,693.3 936.0,701.5 903.0,708.0 C870.0,714.5 812.8,718.3 779.0,718.0 C745.2,717.7 721.5,711.0 700.0,706.0 C678.5,701.0 665.7,697.3 650.0,688.0 C634.3,678.7 616.3,664.7 606.0,650.0 C595.7,635.3 588.7,618.2 588.0,600.0 C587.3,581.8 599.7,550.8 602.0,541.0Z" fill="#e8d8da"/>
<path d="M1035.0,414.0 C1040.7,422.3 1043.2,452.0 1044.0,470.0 C1044.8,488.0 1042.0,511.3 1040.0,522.0 C1038.0,532.7 1039.7,528.0 1032.0,534.0 C1024.3,540.0 1008.8,549.8 994.0,558.0 C979.2,566.2 958.7,577.0 943.0,583.0 C927.3,589.0 908.8,596.2 900.0,594.0 C891.2,591.8 881.7,580.7 890.0,570.0 C898.3,559.3 934.2,546.7 950.0,530.0 C965.8,513.3 975.0,488.3 985.0,470.0 C995.0,451.7 1001.7,429.3 1010.0,420.0 C1018.3,410.7 1029.3,405.7 1035.0,414.0Z" fill="url(#fatg2)" stroke="#cf8842" stroke-width="2.6"/>
<clipPath id="fc175"><path d="M1035.0,414.0 C1040.7,422.3 1043.2,452.0 1044.0,470.0 C1044.8,488.0 1042.0,511.3 1040.0,522.0 C1038.0,532.7 1039.7,528.0 1032.0,534.0 C1024.3,540.0 1008.8,549.8 994.0,558.0 C979.2,566.2 958.7,577.0 943.0,583.0 C927.3,589.0 908.8,596.2 900.0,594.0 C891.2,591.8 881.7,580.7 890.0,570.0 C898.3,559.3 934.2,546.7 950.0,530.0 C965.8,513.3 975.0,488.3 985.0,470.0 C995.0,451.7 1001.7,429.3 1010.0,420.0 C1018.3,410.7 1029.3,405.7 1035.0,414.0Z"/></clipPath><g clip-path="url(#fc175)">
<path d="M1000.7,521.2 a7.9,7.1 0 0 1 15.9,-3.2 a7.1,6.3 0 0 1 14.3,5.5" fill="none" stroke="#e5a35c" stroke-width="2.2" opacity="0.8"/>
<path d="M985.8,564.4 a7.6,6.8 0 0 1 15.2,-3.0 a6.8,6.1 0 0 1 13.7,5.3" fill="none" stroke="#e5a35c" stroke-width="2.2" opacity="0.8"/>
<path d="M987.2,579.3 a7.9,7.1 0 0 1 15.7,-3.1 a7.1,6.3 0 0 1 14.2,5.5" fill="none" stroke="#e5a35c" stroke-width="2.2" opacity="0.8"/>
<path d="M907.6,474.8 a8.9,8.0 0 0 1 17.7,-3.5 a8.0,7.1 0 0 1 16.0,6.2" fill="none" stroke="#e5a35c" stroke-width="2.2" opacity="0.8"/>
<path d="M975.2,579.1 a9.4,8.5 0 0 1 18.8,-3.8 a8.5,7.5 0 0 1 16.9,6.6" fill="none" stroke="#e5a35c" stroke-width="2.2" opacity="0.8"/>
<path d="M913.2,468.3 a7.0,6.3 0 0 1 14.1,-2.8 a6.3,5.6 0 0 1 12.7,4.9" fill="none" stroke="#e5a35c" stroke-width="2.2" opacity="0.8"/>
<path d="M900.0,542.5 a9.4,8.5 0 0 1 18.9,-3.8 a8.5,7.5 0 0 1 17.0,6.6" fill="none" stroke="#e5a35c" stroke-width="2.2" opacity="0.8"/>
<path d="M1009.6,477.7 a9.5,8.5 0 0 1 18.9,-3.8 a8.5,7.6 0 0 1 17.0,6.6" fill="none" stroke="#e5a35c" stroke-width="2.2" opacity="0.8"/>
<path d="M920.4,502.0 a8.9,8.0 0 0 1 17.8,-3.6 a8.0,7.1 0 0 1 16.0,6.2" fill="none" stroke="#e5a35c" stroke-width="2.2" opacity="0.8"/>
<path d="M884.6,454.3 a9.3,8.4 0 0 1 18.7,-3.7 a8.4,7.5 0 0 1 16.8,6.5" fill="none" stroke="#e5a35c" stroke-width="2.2" opacity="0.8"/>
<path d="M918.3,492.4 a8.3,7.5 0 0 1 16.6,-3.3 a7.5,6.7 0 0 1 15.0,5.8" fill="none" stroke="#e5a35c" stroke-width="2.2" opacity="0.8"/>
<path d="M979.3,442.0 a7.3,6.6 0 0 1 14.7,-2.9 a6.6,5.9 0 0 1 13.2,5.1" fill="none" stroke="#e5a35c" stroke-width="2.2" opacity="0.8"/>
<path d="M943.5,511.0 a6.8,6.2 0 0 1 13.7,-2.7 a6.2,5.5 0 0 1 12.3,4.8" fill="none" stroke="#e5a35c" stroke-width="2.2" opacity="0.8"/>
<path d="M965.0,578.6 a7.6,6.8 0 0 1 15.1,-3.0 a6.8,6.1 0 0 1 13.6,5.3" fill="none" stroke="#e5a35c" stroke-width="2.2" opacity="0.8"/>
<path d="M959.6,458.2 a7.1,6.4 0 0 1 14.2,-2.8 a6.4,5.7 0 0 1 12.8,5.0" fill="none" stroke="#e5a35c" stroke-width="2.2" opacity="0.8"/>
<path d="M973.4,457.2 a9.5,8.6 0 0 1 19.1,-3.8 a8.6,7.6 0 0 1 17.2,6.7" fill="none" stroke="#e5a35c" stroke-width="2.2" opacity="0.8"/>
<path d="M1010.4,455.0 a9.8,8.8 0 0 1 19.5,-3.9 a8.8,7.8 0 0 1 17.6,6.8" fill="none" stroke="#e5a35c" stroke-width="2.2" opacity="0.8"/>
<path d="M929.6,552.2 a9.0,8.1 0 0 1 18.1,-3.6 a8.1,7.2 0 0 1 16.3,6.3" fill="none" stroke="#e5a35c" stroke-width="2.2" opacity="0.8"/>
<path d="M918.3,538.3 a8.6,7.8 0 0 1 17.2,-3.4 a7.8,6.9 0 0 1 15.5,6.0" fill="none" stroke="#e5a35c" stroke-width="2.2" opacity="0.8"/>
<path d="M996.1,479.2 a9.0,8.1 0 0 1 18.0,-3.6 a8.1,7.2 0 0 1 16.2,6.3" fill="none" stroke="#e5a35c" stroke-width="2.2" opacity="0.8"/>
<path d="M1021.8,537.9 a8.1,7.3 0 0 1 16.3,-3.3 a7.3,6.5 0 0 1 14.7,5.7" fill="none" stroke="#e5a35c" stroke-width="2.2" opacity="0.8"/>
<path d="M892.6,512.1 a7.4,6.7 0 0 1 14.8,-3.0 a6.7,5.9 0 0 1 13.3,5.2" fill="none" stroke="#e5a35c" stroke-width="2.2" opacity="0.8"/>
<path d="M984.1,538.7 a8.3,7.4 0 0 1 16.5,-3.3 a7.4,6.6 0 0 1 14.9,5.8" fill="none" stroke="#e5a35c" stroke-width="2.2" opacity="0.8"/>
<path d="M901.0,534.0 a8.5,7.7 0 0 1 17.0,-3.4 a7.7,6.8 0 0 1 15.3,6.0" fill="none" stroke="#e5a35c" stroke-width="2.2" opacity="0.8"/>
<path d="M900.3,569.1 a8.6,7.8 0 0 1 17.2,-3.4 a7.8,6.9 0 0 1 15.5,6.0" fill="none" stroke="#e5a35c" stroke-width="2.2" opacity="0.8"/>
<path d="M895.8,575.2 a6.6,5.9 0 0 1 13.1,-2.6 a5.9,5.3 0 0 1 11.8,4.6" fill="none" stroke="#e5a35c" stroke-width="2.2" opacity="0.8"/>
<path d="M924.3,544.7 a8.4,7.6 0 0 1 16.8,-3.4 a7.6,6.7 0 0 1 15.1,5.9" fill="none" stroke="#e5a35c" stroke-width="2.2" opacity="0.8"/>
<path d="M959.8,534.2 a7.8,7.0 0 0 1 15.7,-3.1 a7.0,6.3 0 0 1 14.1,5.5" fill="none" stroke="#e5a35c" stroke-width="2.2" opacity="0.8"/>
<path d="M925.6,466.4 a6.3,5.6 0 0 1 12.5,-2.5 a5.6,5.0 0 0 1 11.3,4.4" fill="none" stroke="#e5a35c" stroke-width="2.2" opacity="0.8"/>
<path d="M983.9,549.6 a8.2,7.4 0 0 1 16.3,-3.3 a7.4,6.5 0 0 1 14.7,5.7" fill="none" stroke="#e5a35c" stroke-width="2.2" opacity="0.8"/>
<path d="M989.8,492.7 a7.1,6.4 0 0 1 14.1,-2.8 a6.4,5.7 0 0 1 12.7,4.9" fill="none" stroke="#e5a35c" stroke-width="2.2" opacity="0.8"/>
<path d="M936.7,566.6 a6.2,5.6 0 0 1 12.3,-2.5 a5.6,4.9 0 0 1 11.1,4.3" fill="none" stroke="#e5a35c" stroke-width="2.2" opacity="0.8"/>
<path d="M949.6,476.6 a9.1,8.2 0 0 1 18.2,-3.6 a8.2,7.3 0 0 1 16.3,6.4" fill="none" stroke="#e5a35c" stroke-width="2.2" opacity="0.8"/>
<path d="M929.3,488.9 a7.6,6.9 0 0 1 15.2,-3.0 a6.9,6.1 0 0 1 13.7,5.3" fill="none" stroke="#e5a35c" stroke-width="2.2" opacity="0.8"/>
<path d="M958.6,552.1 a7.4,6.7 0 0 1 14.8,-3.0 a6.7,5.9 0 0 1 13.3,5.2" fill="none" stroke="#e5a35c" stroke-width="2.2" opacity="0.8"/>
<path d="M1006.3,457.1 a7.1,6.4 0 0 1 14.2,-2.8 a6.4,5.7 0 0 1 12.7,5.0" fill="none" stroke="#e5a35c" stroke-width="2.2" opacity="0.8"/>
<path d="M887.1,457.2 a9.1,8.2 0 0 1 18.2,-3.6 a8.2,7.3 0 0 1 16.4,6.4" fill="none" stroke="#e5a35c" stroke-width="2.2" opacity="0.8"/>
<path d="M988.5,467.6 a6.8,6.1 0 0 1 13.5,-2.7 a6.1,5.4 0 0 1 12.2,4.7" fill="none" stroke="#e5a35c" stroke-width="2.2" opacity="0.8"/>
<path d="M935.6,548.0 a9.3,8.3 0 0 1 18.5,-3.7 a8.3,7.4 0 0 1 16.7,6.5" fill="none" stroke="#e5a35c" stroke-width="2.2" opacity="0.8"/>
<ellipse cx="997.6" cy="494.2" rx="6.7" ry="3.1" transform="rotate(-24 997.6 494.2)" fill="#fdf0d4" opacity="0.8"/>
<ellipse cx="970.4" cy="491.9" rx="7.0" ry="2.9" transform="rotate(-7 970.4 491.9)" fill="#fdf0d4" opacity="0.8"/>
<ellipse cx="909.1" cy="515.1" rx="10.5" ry="3.9" transform="rotate(-19 909.1 515.1)" fill="#fdf0d4" opacity="0.8"/>
<ellipse cx="973.5" cy="493.3" rx="9.2" ry="4.0" transform="rotate(-9 973.5 493.3)" fill="#fdf0d4" opacity="0.8"/>
<ellipse cx="942.3" cy="520.7" rx="8.4" ry="3.4" transform="rotate(-8 942.3 520.7)" fill="#fdf0d4" opacity="0.8"/>
<ellipse cx="905.7" cy="511.9" rx="9.3" ry="3.2" transform="rotate(-14 905.7 511.9)" fill="#fdf0d4" opacity="0.8"/>
<ellipse cx="962.1" cy="454.8" rx="8.6" ry="2.6" transform="rotate(-15 962.1 454.8)" fill="#fdf0d4" opacity="0.8"/>
<ellipse cx="985.0" cy="479.6" rx="8.8" ry="3.9" transform="rotate(-3 985.0 479.6)" fill="#fdf0d4" opacity="0.8"/>
<ellipse cx="922.1" cy="514.0" rx="9.1" ry="2.6" transform="rotate(-19 922.1 514.0)" fill="#fdf0d4" opacity="0.8"/>
<ellipse cx="934.2" cy="443.3" rx="8.7" ry="3.9" transform="rotate(-20 934.2 443.3)" fill="#fdf0d4" opacity="0.8"/>
<ellipse cx="1012.6" cy="504.4" rx="6.7" ry="3.8" transform="rotate(-12 1012.6 504.4)" fill="#fdf0d4" opacity="0.8"/>
<ellipse cx="1019.6" cy="506.5" rx="9.7" ry="3.0" transform="rotate(-6 1019.6 506.5)" fill="#fdf0d4" opacity="0.8"/>
<ellipse cx="1020.2" cy="520.9" rx="8.2" ry="3.6" transform="rotate(-15 1020.2 520.9)" fill="#fdf0d4" opacity="0.8"/>
<ellipse cx="918.8" cy="439.8" rx="6.4" ry="2.8" transform="rotate(-25 918.8 439.8)" fill="#fdf0d4" opacity="0.8"/>
<ellipse cx="966.6" cy="504.8" rx="8.7" ry="3.1" transform="rotate(-11 966.6 504.8)" fill="#fdf0d4" opacity="0.8"/>
<ellipse cx="942.9" cy="481.6" rx="9.8" ry="3.1" transform="rotate(-25 942.9 481.6)" fill="#fdf0d4" opacity="0.8"/>
<ellipse cx="1016.2" cy="506.8" rx="7.8" ry="3.1" transform="rotate(-14 1016.2 506.8)" fill="#fdf0d4" opacity="0.8"/>
<ellipse cx="978.9" cy="457.8" rx="6.0" ry="2.8" transform="rotate(-7 978.9 457.8)" fill="#fdf0d4" opacity="0.8"/>
<ellipse cx="923.1" cy="481.1" rx="7.0" ry="2.8" transform="rotate(-25 923.1 481.1)" fill="#fdf0d4" opacity="0.8"/>
<ellipse cx="955.1" cy="452.3" rx="6.1" ry="2.7" transform="rotate(-25 955.1 452.3)" fill="#fdf0d4" opacity="0.8"/>
</g>
<path d="M590.0,502.0 C598.3,503.0 621.7,504.7 640.0,508.0 C658.3,511.3 676.7,517.7 700.0,522.0 C723.3,526.3 755.8,533.2 780.0,534.0 C804.2,534.8 825.8,534.3 845.0,527.0 C864.2,519.7 880.0,501.5 895.0,490.0 C910.0,478.5 924.2,469.7 935.0,458.0 C945.8,446.3 954.5,436.8 960.0,420.0 C965.5,403.2 967.7,377.0 968.0,357.0 C968.3,337.0 965.0,314.5 962.0,300.0 C959.0,285.5 952.0,275.0 950.0,270.0 L948.0,266.0 C955.5,270.0 981.7,279.3 993.0,290.0 C1004.3,300.7 1010.3,316.0 1016.0,330.0 C1021.7,344.0 1025.2,360.7 1027.0,374.0 C1028.8,387.3 1029.8,397.0 1027.0,410.0 C1024.2,423.0 1017.2,436.2 1010.0,452.0 C1002.8,467.8 995.7,487.7 984.0,505.0 C972.3,522.3 957.3,540.8 940.0,556.0 C922.7,571.2 903.3,587.7 880.0,596.0 C856.7,604.3 822.7,605.8 800.0,606.0 C777.3,606.2 762.3,601.0 744.0,597.0 C725.7,593.0 707.3,588.2 690.0,582.0 C672.7,575.8 654.7,566.8 640.0,560.0 C625.3,553.2 608.3,544.2 602.0,541.0Z" fill="#cc9d8f"/>
<path d="M591.0,505.2 C597.5,506.2 617.1,508.5 630.0,510.9 C642.9,513.3 655.6,516.9 668.4,519.8 C681.2,522.8 694.0,526.1 706.9,528.8 C719.9,531.5 732.8,534.2 745.9,536.0 C758.9,537.9 772.1,539.5 785.2,539.9 C798.4,540.3 811.9,540.6 824.7,538.2 C837.4,535.8 850.4,531.7 861.7,525.4 C873.0,519.2 882.2,508.8 892.4,500.5 C902.6,492.3 913.4,484.6 923.1,475.7 C932.8,466.9 942.9,458.1 950.3,447.5 C957.7,436.9 963.9,424.6 967.5,412.2 C971.1,399.8 971.6,386.1 972.2,373.0 C972.7,359.9 972.3,346.6 970.8,333.6 C969.2,320.7 964.2,301.9 962.8,295.5" fill="none" stroke="#c09184" stroke-width="1.5" opacity="0.9"/>
<path d="M592.0,508.5 C598.6,509.7 618.3,512.8 631.4,515.6 C644.4,518.4 657.3,522.3 670.4,525.5 C683.4,528.7 696.5,532.1 709.6,534.9 C722.8,537.7 736.0,540.5 749.3,542.3 C762.6,544.1 776.1,545.6 789.5,545.8 C802.9,546.0 816.8,546.2 829.7,543.5 C842.6,540.8 855.7,536.2 867.1,529.6 C878.6,523.1 888.0,512.6 898.3,504.0 C908.6,495.4 919.3,487.3 928.9,478.0 C938.4,468.7 948.2,459.3 955.6,448.3 C962.9,437.4 969.3,424.9 972.9,412.2 C976.4,399.5 976.7,385.5 977.0,372.2 C977.3,358.9 976.5,345.2 974.4,332.2 C972.4,319.2 966.1,300.6 964.5,294.2" fill="none" stroke="#dfbaac" stroke-width="1.3" opacity="0.9"/>
<path d="M593.0,511.8 C599.6,513.2 619.5,517.1 632.8,520.3 C646.0,523.5 659.1,527.7 672.3,531.1 C685.6,534.6 698.9,538.0 712.3,540.9 C725.7,543.8 739.2,546.8 752.8,548.6 C766.4,550.4 780.1,551.7 793.8,551.7 C807.4,551.7 821.6,551.7 834.7,548.7 C847.8,545.8 861.0,540.7 872.6,533.8 C884.2,527.0 893.9,516.5 904.2,507.5 C914.6,498.6 925.2,490.0 934.7,480.3 C944.1,470.6 953.5,460.6 960.8,449.2 C968.0,437.9 974.7,425.2 978.2,412.2 C981.7,399.3 981.9,385.0 981.8,371.4 C981.8,357.8 980.7,343.9 978.1,330.8 C975.5,317.7 968.1,299.3 966.1,293.0" fill="none" stroke="#c09184" stroke-width="1.5" opacity="0.9"/>
<path d="M594.0,515.0 C600.7,516.7 620.8,521.4 634.2,525.0 C647.5,528.6 660.8,533.1 674.3,536.8 C687.7,540.4 701.3,543.9 715.0,547.0 C728.6,550.0 742.4,553.1 756.2,554.9 C770.1,556.7 784.1,557.7 798.0,557.6 C812.0,557.4 826.4,557.3 839.7,554.0 C853.0,550.7 866.3,545.2 878.0,538.0 C889.7,530.9 899.7,520.3 910.1,511.0 C920.5,501.8 931.1,492.7 940.5,482.5 C949.8,472.4 958.8,461.8 966.0,450.1 C973.2,438.4 980.1,425.5 983.6,412.2 C987.0,399.0 987.0,384.4 986.7,370.6 C986.4,356.8 984.9,342.6 981.8,329.4 C978.6,316.3 970.1,298.0 967.8,291.7" fill="none" stroke="#dfbaac" stroke-width="1.3" opacity="0.9"/>
<path d="M595.0,518.2 C601.8,520.2 622.0,525.7 635.6,529.7 C649.1,533.7 662.5,538.5 676.2,542.4 C689.9,546.3 703.7,549.9 717.7,553.0 C731.6,556.1 745.6,559.4 759.7,561.2 C773.8,562.9 788.1,563.8 802.3,563.5 C816.5,563.2 831.2,562.8 844.7,559.3 C858.2,555.7 871.6,549.7 883.4,542.2 C895.3,534.8 905.5,524.1 916.0,514.5 C926.5,505.0 937.0,495.4 946.2,484.8 C955.5,474.2 964.1,463.0 971.2,450.9 C978.3,438.9 985.5,425.8 988.9,412.2 C992.3,398.7 992.1,383.9 991.5,369.8 C991.0,355.8 989.1,341.2 985.4,328.0 C981.7,314.8 972.1,296.7 969.4,290.4" fill="none" stroke="#c09184" stroke-width="1.5" opacity="0.9"/>
<path d="M596.0,521.5 C602.8,523.6 623.3,530.0 637.0,534.4 C650.7,538.8 664.3,544.0 678.1,548.1 C692.0,552.2 706.2,555.8 720.3,559.0 C734.5,562.3 748.8,565.7 763.1,567.5 C777.5,569.2 792.2,569.9 806.6,569.4 C821.0,568.9 836.0,568.3 849.7,564.5 C863.5,560.7 876.8,554.2 888.9,546.4 C900.9,538.7 911.4,527.9 921.9,518.0 C932.4,508.1 942.9,498.1 952.0,487.1 C961.1,476.0 969.4,464.3 976.5,451.8 C983.5,439.3 991.0,426.1 994.3,412.3 C997.6,398.5 997.2,383.3 996.4,369.0 C995.5,354.8 993.3,339.9 989.1,326.6 C984.9,313.3 974.0,295.4 971.0,289.2" fill="none" stroke="#dfbaac" stroke-width="1.3" opacity="0.9"/>
<path d="M597.0,524.8 C603.9,527.1 624.5,534.2 638.4,539.1 C652.2,543.9 666.0,549.4 680.1,553.7 C694.2,558.0 708.6,561.7 723.0,565.1 C737.4,568.4 751.9,572.0 766.6,573.7 C781.2,575.4 796.2,575.9 810.9,575.2 C825.6,574.6 840.9,573.9 854.8,569.8 C868.7,565.7 882.1,558.7 894.3,550.6 C906.5,542.6 917.2,531.8 927.8,521.5 C938.4,511.3 948.8,500.8 957.8,489.3 C966.8,477.9 974.7,465.5 981.7,452.7 C988.6,439.8 996.4,426.3 999.6,412.3 C1002.9,398.2 1002.4,382.8 1001.2,368.2 C1000.1,353.7 997.5,338.6 992.8,325.2 C988.0,311.8 976.0,294.1 972.7,287.9" fill="none" stroke="#c09184" stroke-width="1.5" opacity="0.9"/>
<path d="M598.0,528.0 C605.0,530.6 625.8,538.5 639.8,543.8 C653.8,549.0 667.7,554.8 682.0,559.4 C696.4,563.9 711.0,567.7 725.7,571.1 C740.4,574.6 755.1,578.4 770.0,580.0 C784.9,581.7 800.2,582.0 815.1,581.1 C830.1,580.3 845.7,579.4 859.8,575.0 C873.9,570.6 887.4,563.2 899.7,554.8 C912.0,546.5 923.0,535.6 933.7,525.0 C944.3,514.5 954.7,503.5 963.6,491.6 C972.5,479.7 980.0,466.8 986.9,453.5 C993.8,440.3 1001.8,426.6 1005.0,412.3 C1008.2,397.9 1007.5,382.2 1006.1,367.4 C1004.6,352.7 1001.7,337.2 996.4,323.8 C991.1,310.3 978.0,292.8 974.3,286.6" fill="none" stroke="#dfbaac" stroke-width="1.3" opacity="0.9"/>
<path d="M599.0,531.2 C606.0,534.1 627.0,542.8 641.2,548.5 C655.4,554.1 669.5,560.2 684.0,565.0 C698.5,569.8 713.5,573.6 728.4,577.2 C743.3,580.7 758.3,584.7 773.5,586.3 C788.7,588.0 804.2,588.0 819.4,587.0 C834.6,586.0 850.5,585.0 864.8,580.3 C879.1,575.6 892.7,567.6 905.1,559.0 C917.6,550.4 928.9,539.4 939.6,528.5 C950.3,517.7 960.6,506.2 969.4,493.9 C978.1,481.5 985.3,468.0 992.1,454.4 C998.9,440.8 1007.2,426.9 1010.3,412.3 C1013.5,397.7 1012.6,381.6 1010.9,366.7 C1009.2,351.7 1005.9,335.9 1000.1,322.4 C994.2,308.8 980.0,291.5 975.9,285.4" fill="none" stroke="#c09184" stroke-width="1.5" opacity="0.9"/>
<path d="M600.0,534.5 C607.1,537.6 628.3,547.1 642.6,553.2 C656.9,559.2 671.2,565.6 685.9,570.6 C700.7,575.7 715.9,579.5 731.0,583.2 C746.2,586.9 761.5,591.0 776.9,592.6 C792.4,594.2 808.2,594.1 823.7,592.9 C839.2,591.7 855.3,590.5 869.8,585.5 C884.3,580.6 898.0,572.1 910.6,563.2 C923.2,554.3 934.7,543.2 945.5,532.0 C956.2,520.9 966.5,508.9 975.2,496.1 C983.8,483.3 990.6,469.3 997.3,455.3 C1004.1,441.3 1012.6,427.2 1015.7,412.3 C1018.8,397.4 1017.7,381.1 1015.8,365.9 C1013.8,350.6 1010.1,334.6 1003.7,320.9 C997.4,307.3 981.9,290.2 977.6,284.1" fill="none" stroke="#dfbaac" stroke-width="1.3" opacity="0.9"/>
<path d="M601.0,537.8 C608.2,541.1 629.5,551.4 644.0,557.9 C658.5,564.3 672.9,571.1 687.9,576.3 C702.8,581.5 718.3,585.5 733.7,589.2 C749.1,593.0 764.7,597.3 780.4,598.9 C796.1,600.5 812.2,600.2 828.0,598.8 C843.7,597.5 860.1,596.0 874.8,590.8 C889.5,585.6 903.2,576.6 916.0,567.4 C928.8,558.2 940.5,547.0 951.4,535.5 C962.2,524.0 972.4,511.6 981.0,498.4 C989.5,485.1 995.9,470.5 1002.6,456.2 C1009.2,441.8 1018.0,427.5 1021.0,412.3 C1024.1,397.1 1022.9,380.5 1020.6,365.1 C1018.3,349.6 1014.3,333.2 1007.4,319.5 C1000.5,305.8 983.9,288.9 979.2,282.8" fill="none" stroke="#c09184" stroke-width="1.5" opacity="0.9"/>
<path d="M590.0,502.0 C598.3,503.0 621.7,504.7 640.0,508.0 C658.3,511.3 676.7,517.7 700.0,522.0 C723.3,526.3 755.8,533.2 780.0,534.0 C804.2,534.8 825.8,534.3 845.0,527.0 C864.2,519.7 880.0,501.5 895.0,490.0 C910.0,478.5 924.2,469.7 935.0,458.0 C945.8,446.3 954.5,436.8 960.0,420.0 C965.5,403.2 967.7,377.0 968.0,357.0 C968.3,337.0 965.0,314.5 962.0,300.0 C959.0,285.5 952.0,275.0 950.0,270.0" fill="none" stroke="#9c624f" stroke-width="3.2"/>
<path d="M602.0,541.0 C608.3,544.2 625.3,553.2 640.0,560.0 C654.7,566.8 672.7,575.8 690.0,582.0 C707.3,588.2 725.7,593.0 744.0,597.0 C762.3,601.0 777.3,606.2 800.0,606.0 C822.7,605.8 856.7,604.3 880.0,596.0 C903.3,587.7 922.7,571.2 940.0,556.0 C957.3,540.8 972.3,522.3 984.0,505.0 C995.7,487.7 1002.8,467.8 1010.0,452.0 C1017.2,436.2 1024.2,423.0 1027.0,410.0 C1029.8,397.0 1028.8,387.3 1027.0,374.0 C1025.2,360.7 1021.7,344.0 1016.0,330.0 C1010.3,316.0 1004.3,300.7 993.0,290.0 C981.7,279.3 955.5,270.0 948.0,266.0" fill="none" stroke="#a9a7b7" stroke-width="7"/>
<path d="M602.0,541.0 C608.3,544.2 625.3,553.2 640.0,560.0 C654.7,566.8 672.7,575.8 690.0,582.0 C707.3,588.2 725.7,593.0 744.0,597.0 C762.3,601.0 777.3,606.2 800.0,606.0 C822.7,605.8 856.7,604.3 880.0,596.0 C903.3,587.7 922.7,571.2 940.0,556.0 C957.3,540.8 972.3,522.3 984.0,505.0 C995.7,487.7 1002.8,467.8 1010.0,452.0 C1017.2,436.2 1024.2,423.0 1027.0,410.0 C1029.8,397.0 1028.8,387.3 1027.0,374.0 C1025.2,360.7 1021.7,344.0 1016.0,330.0 C1010.3,316.0 1004.3,300.7 993.0,290.0 C981.7,279.3 955.5,270.0 948.0,266.0" fill="none" stroke="#eeecf2" stroke-width="4"/>
<path d="M1038.0,545.0 C1046.0,549.0 1036.3,583.3 1030.0,600.0 C1023.7,616.7 1013.0,633.0 1000.0,645.0 C987.0,657.0 959.5,677.2 952.0,672.0 C944.5,666.8 957.3,627.2 955.0,614.0 C952.7,600.8 933.5,599.3 938.0,593.0 C942.5,586.7 965.3,584.0 982.0,576.0 C998.7,568.0 1030.0,541.0 1038.0,545.0Z" fill="#f0aa5c" stroke="#cf8842" stroke-width="2.6"/>
<clipPath id="fc252"><path d="M1038.0,545.0 C1046.0,549.0 1036.3,583.3 1030.0,600.0 C1023.7,616.7 1013.0,633.0 1000.0,645.0 C987.0,657.0 959.5,677.2 952.0,672.0 C944.5,666.8 957.3,627.2 955.0,614.0 C952.7,600.8 933.5,599.3 938.0,593.0 C942.5,586.7 965.3,584.0 982.0,576.0 C998.7,568.0 1030.0,541.0 1038.0,545.0Z"/></clipPath><g clip-path="url(#fc252)">
<path d="M974.8,570.1 a6.1,5.5 0 0 1 12.2,-2.4 a5.5,4.9 0 0 1 11.0,4.3" fill="none" stroke="#de8f45" stroke-width="2.2" opacity="0.8"/>
<path d="M965.2,605.5 a8.8,7.9 0 0 1 17.6,-3.5 a7.9,7.1 0 0 1 15.9,6.2" fill="none" stroke="#de8f45" stroke-width="2.2" opacity="0.8"/>
<path d="M927.9,605.0 a7.6,6.8 0 0 1 15.2,-3.0 a6.8,6.1 0 0 1 13.7,5.3" fill="none" stroke="#de8f45" stroke-width="2.2" opacity="0.8"/>
<path d="M926.9,662.1 a6.9,6.2 0 0 1 13.8,-2.8 a6.2,5.5 0 0 1 12.4,4.8" fill="none" stroke="#de8f45" stroke-width="2.2" opacity="0.8"/>
<path d="M934.1,612.3 a6.7,6.0 0 0 1 13.3,-2.7 a6.0,5.3 0 0 1 12.0,4.7" fill="none" stroke="#de8f45" stroke-width="2.2" opacity="0.8"/>
<path d="M987.3,599.2 a6.5,5.8 0 0 1 13.0,-2.6 a5.8,5.2 0 0 1 11.7,4.5" fill="none" stroke="#de8f45" stroke-width="2.2" opacity="0.8"/>
<path d="M929.0,638.0 a7.1,6.4 0 0 1 14.2,-2.8 a6.4,5.7 0 0 1 12.8,5.0" fill="none" stroke="#de8f45" stroke-width="2.2" opacity="0.8"/>
<path d="M997.3,611.3 a9.7,8.8 0 0 1 19.5,-3.9 a8.8,7.8 0 0 1 17.5,6.8" fill="none" stroke="#de8f45" stroke-width="2.2" opacity="0.8"/>
<path d="M953.9,589.4 a7.1,6.4 0 0 1 14.1,-2.8 a6.4,5.7 0 0 1 12.7,4.9" fill="none" stroke="#de8f45" stroke-width="2.2" opacity="0.8"/>
<path d="M1004.7,628.0 a7.4,6.6 0 0 1 14.8,-3.0 a6.6,5.9 0 0 1 13.3,5.2" fill="none" stroke="#de8f45" stroke-width="2.2" opacity="0.8"/>
<path d="M927.6,633.4 a9.9,8.9 0 0 1 19.8,-4.0 a8.9,7.9 0 0 1 17.8,6.9" fill="none" stroke="#de8f45" stroke-width="2.2" opacity="0.8"/>
<path d="M985.0,564.4 a6.1,5.5 0 0 1 12.2,-2.4 a5.5,4.9 0 0 1 11.0,4.3" fill="none" stroke="#de8f45" stroke-width="2.2" opacity="0.8"/>
<path d="M934.8,581.4 a6.1,5.5 0 0 1 12.3,-2.5 a5.5,4.9 0 0 1 11.1,4.3" fill="none" stroke="#de8f45" stroke-width="2.2" opacity="0.8"/>
<path d="M924.2,630.5 a9.6,8.6 0 0 1 19.2,-3.8 a8.6,7.7 0 0 1 17.3,6.7" fill="none" stroke="#de8f45" stroke-width="2.2" opacity="0.8"/>
<path d="M942.3,663.0 a7.9,7.1 0 0 1 15.8,-3.2 a7.1,6.3 0 0 1 14.2,5.5" fill="none" stroke="#de8f45" stroke-width="2.2" opacity="0.8"/>
<path d="M998.8,657.3 a9.8,8.8 0 0 1 19.5,-3.9 a8.8,7.8 0 0 1 17.6,6.8" fill="none" stroke="#de8f45" stroke-width="2.2" opacity="0.8"/>
<path d="M924.6,595.0 a8.4,7.6 0 0 1 16.9,-3.4 a7.6,6.7 0 0 1 15.2,5.9" fill="none" stroke="#de8f45" stroke-width="2.2" opacity="0.8"/>
<ellipse cx="1023.7" cy="566.4" rx="7.5" ry="3.8" transform="rotate(-27 1023.7 566.4)" fill="#f8cf8f" opacity="0.8"/>
<ellipse cx="979.2" cy="583.6" rx="9.4" ry="3.9" transform="rotate(-25 979.2 583.6)" fill="#f8cf8f" opacity="0.8"/>
<ellipse cx="1007.2" cy="611.5" rx="10.2" ry="3.3" transform="rotate(-2 1007.2 611.5)" fill="#f8cf8f" opacity="0.8"/>
<ellipse cx="977.0" cy="589.2" rx="7.1" ry="3.7" transform="rotate(-16 977.0 589.2)" fill="#f8cf8f" opacity="0.8"/>
<ellipse cx="969.6" cy="572.1" rx="9.6" ry="3.4" transform="rotate(-9 969.6 572.1)" fill="#f8cf8f" opacity="0.8"/>
<ellipse cx="978.9" cy="594.3" rx="6.8" ry="3.6" transform="rotate(-29 978.9 594.3)" fill="#f8cf8f" opacity="0.8"/>
<ellipse cx="985.4" cy="613.2" rx="9.4" ry="2.6" transform="rotate(-23 985.4 613.2)" fill="#f8cf8f" opacity="0.8"/>
<ellipse cx="1015.5" cy="605.1" rx="10.4" ry="3.8" transform="rotate(-17 1015.5 605.1)" fill="#f8cf8f" opacity="0.8"/>
<ellipse cx="1019.8" cy="611.4" rx="7.7" ry="3.1" transform="rotate(-28 1019.8 611.4)" fill="#f8cf8f" opacity="0.8"/>
</g>
<path d="M598.0,566.0 C599.7,555.3 610.5,551.7 620.0,551.0 C629.5,550.3 644.3,553.8 655.0,562.0 C665.7,570.2 679.2,584.5 684.0,600.0 C688.8,615.5 686.7,643.7 684.0,655.0 C681.3,666.3 675.3,668.8 668.0,668.0 C660.7,667.2 649.7,658.8 640.0,650.0 C630.3,641.2 617.0,629.0 610.0,615.0 C603.0,601.0 596.3,576.7 598.0,566.0Z" fill="url(#fatg)" stroke="#cf8842" stroke-width="2.6"/>
<clipPath id="fc281"><path d="M598.0,566.0 C599.7,555.3 610.5,551.7 620.0,551.0 C629.5,550.3 644.3,553.8 655.0,562.0 C665.7,570.2 679.2,584.5 684.0,600.0 C688.8,615.5 686.7,643.7 684.0,655.0 C681.3,666.3 675.3,668.8 668.0,668.0 C660.7,667.2 649.7,658.8 640.0,650.0 C630.3,641.2 617.0,629.0 610.0,615.0 C603.0,601.0 596.3,576.7 598.0,566.0Z"/></clipPath><g clip-path="url(#fc281)">
<path d="M619.5,658.0 a6.4,5.8 0 0 1 12.8,-2.6 a5.8,5.1 0 0 1 11.6,4.5" fill="none" stroke="#e5a35c" stroke-width="2.2" opacity="0.8"/>
<path d="M634.3,578.9 a6.3,5.7 0 0 1 12.6,-2.5 a5.7,5.1 0 0 1 11.4,4.4" fill="none" stroke="#e5a35c" stroke-width="2.2" opacity="0.8"/>
<path d="M641.4,591.1 a6.2,5.6 0 0 1 12.4,-2.5 a5.6,5.0 0 0 1 11.2,4.3" fill="none" stroke="#e5a35c" stroke-width="2.2" opacity="0.8"/>
<path d="M594.4,628.9 a8.3,7.5 0 0 1 16.7,-3.3 a7.5,6.7 0 0 1 15.0,5.8" fill="none" stroke="#e5a35c" stroke-width="2.2" opacity="0.8"/>
<path d="M579.3,590.1 a9.9,8.9 0 0 1 19.7,-3.9 a8.9,7.9 0 0 1 17.8,6.9" fill="none" stroke="#e5a35c" stroke-width="2.2" opacity="0.8"/>
<path d="M601.6,621.2 a7.7,6.9 0 0 1 15.4,-3.1 a6.9,6.1 0 0 1 13.8,5.4" fill="none" stroke="#e5a35c" stroke-width="2.2" opacity="0.8"/>
<path d="M646.9,625.1 a9.2,8.2 0 0 1 18.3,-3.7 a8.2,7.3 0 0 1 16.5,6.4" fill="none" stroke="#e5a35c" stroke-width="2.2" opacity="0.8"/>
<path d="M630.6,586.2 a6.7,6.0 0 0 1 13.4,-2.7 a6.0,5.4 0 0 1 12.1,4.7" fill="none" stroke="#e5a35c" stroke-width="2.2" opacity="0.8"/>
<path d="M591.9,645.8 a6.5,5.8 0 0 1 12.9,-2.6 a5.8,5.2 0 0 1 11.6,4.5" fill="none" stroke="#e5a35c" stroke-width="2.2" opacity="0.8"/>
<path d="M586.5,659.0 a6.8,6.1 0 0 1 13.6,-2.7 a6.1,5.4 0 0 1 12.2,4.8" fill="none" stroke="#e5a35c" stroke-width="2.2" opacity="0.8"/>
<path d="M659.1,576.6 a7.9,7.1 0 0 1 15.7,-3.1 a7.1,6.3 0 0 1 14.1,5.5" fill="none" stroke="#e5a35c" stroke-width="2.2" opacity="0.8"/>
<path d="M600.2,646.2 a8.5,7.6 0 0 1 16.9,-3.4 a7.6,6.8 0 0 1 15.2,5.9" fill="none" stroke="#e5a35c" stroke-width="2.2" opacity="0.8"/>
<path d="M634.2,639.8 a9.5,8.5 0 0 1 19.0,-3.8 a8.5,7.6 0 0 1 17.1,6.6" fill="none" stroke="#e5a35c" stroke-width="2.2" opacity="0.8"/>
<path d="M612.2,625.0 a7.8,7.0 0 0 1 15.6,-3.1 a7.0,6.2 0 0 1 14.0,5.4" fill="none" stroke="#e5a35c" stroke-width="2.2" opacity="0.8"/>
<ellipse cx="614.2" cy="618.8" rx="9.0" ry="3.7" transform="rotate(-24 614.2 618.8)" fill="#fdf0d4" opacity="0.8"/>
<ellipse cx="643.7" cy="594.9" rx="9.6" ry="2.6" transform="rotate(-20 643.7 594.9)" fill="#fdf0d4" opacity="0.8"/>
<ellipse cx="639.9" cy="569.6" rx="8.8" ry="3.6" transform="rotate(-17 639.9 569.6)" fill="#fdf0d4" opacity="0.8"/>
<ellipse cx="651.2" cy="604.0" rx="7.1" ry="3.0" transform="rotate(-0 651.2 604.0)" fill="#fdf0d4" opacity="0.8"/>
<ellipse cx="629.7" cy="592.8" rx="6.4" ry="2.8" transform="rotate(-25 629.7 592.8)" fill="#fdf0d4" opacity="0.8"/>
<ellipse cx="670.6" cy="611.8" rx="10.4" ry="4.0" transform="rotate(-12 670.6 611.8)" fill="#fdf0d4" opacity="0.8"/>
<ellipse cx="670.7" cy="599.5" rx="8.1" ry="3.9" transform="rotate(-3 670.7 599.5)" fill="#fdf0d4" opacity="0.8"/>
</g>
<path d="M705.0,609.0 C719.7,606.5 752.2,616.8 779.0,619.0 C805.8,621.2 849.2,616.7 866.0,622.0 C882.8,627.3 879.3,638.3 880.0,651.0 C880.7,663.7 882.7,688.0 870.0,698.0 C857.3,708.0 829.5,712.2 804.0,711.0 C778.5,709.8 735.8,703.8 717.0,691.0 C698.2,678.2 693.0,647.7 691.0,634.0 C689.0,620.3 690.3,611.5 705.0,609.0Z" fill="url(#fatg)" stroke="#cf8842" stroke-width="2.6"/>
<clipPath id="fc305"><path d="M705.0,609.0 C719.7,606.5 752.2,616.8 779.0,619.0 C805.8,621.2 849.2,616.7 866.0,622.0 C882.8,627.3 879.3,638.3 880.0,651.0 C880.7,663.7 882.7,688.0 870.0,698.0 C857.3,708.0 829.5,712.2 804.0,711.0 C778.5,709.8 735.8,703.8 717.0,691.0 C698.2,678.2 693.0,647.7 691.0,634.0 C689.0,620.3 690.3,611.5 705.0,609.0Z"/></clipPath><g clip-path="url(#fc305)">
<path d="M852.3,663.8 a9.1,8.2 0 0 1 18.2,-3.6 a8.2,7.3 0 0 1 16.4,6.4" fill="none" stroke="#e5a35c" stroke-width="2.2" opacity="0.8"/>
<path d="M748.6,705.7 a9.7,8.7 0 0 1 19.4,-3.9 a8.7,7.7 0 0 1 17.4,6.8" fill="none" stroke="#e5a35c" stroke-width="2.2" opacity="0.8"/>
<path d="M732.7,700.5 a6.7,6.1 0 0 1 13.5,-2.7 a6.1,5.4 0 0 1 12.1,4.7" fill="none" stroke="#e5a35c" stroke-width="2.2" opacity="0.8"/>
<path d="M694.8,683.2 a7.2,6.5 0 0 1 14.4,-2.9 a6.5,5.7 0 0 1 12.9,5.0" fill="none" stroke="#e5a35c" stroke-width="2.2" opacity="0.8"/>
<path d="M776.9,676.5 a6.2,5.5 0 0 1 12.3,-2.5 a5.5,4.9 0 0 1 11.1,4.3" fill="none" stroke="#e5a35c" stroke-width="2.2" opacity="0.8"/>
<path d="M816.4,646.8 a7.7,7.0 0 0 1 15.5,-3.1 a7.0,6.2 0 0 1 13.9,5.4" fill="none" stroke="#e5a35c" stroke-width="2.2" opacity="0.8"/>
<path d="M738.2,684.9 a9.0,8.1 0 0 1 18.0,-3.6 a8.1,7.2 0 0 1 16.2,6.3" fill="none" stroke="#e5a35c" stroke-width="2.2" opacity="0.8"/>
<path d="M730.9,632.7 a7.2,6.5 0 0 1 14.4,-2.9 a6.5,5.8 0 0 1 13.0,5.0" fill="none" stroke="#e5a35c" stroke-width="2.2" opacity="0.8"/>
<path d="M755.5,630.6 a6.6,6.0 0 0 1 13.2,-2.6 a6.0,5.3 0 0 1 11.9,4.6" fill="none" stroke="#e5a35c" stroke-width="2.2" opacity="0.8"/>
<path d="M815.3,681.5 a9.9,8.9 0 0 1 19.8,-4.0 a8.9,7.9 0 0 1 17.8,6.9" fill="none" stroke="#e5a35c" stroke-width="2.2" opacity="0.8"/>
<path d="M861.2,695.8 a7.5,6.7 0 0 1 15.0,-3.0 a6.7,6.0 0 0 1 13.5,5.2" fill="none" stroke="#e5a35c" stroke-width="2.2" opacity="0.8"/>
<path d="M705.8,649.8 a7.9,7.1 0 0 1 15.7,-3.1 a7.1,6.3 0 0 1 14.1,5.5" fill="none" stroke="#e5a35c" stroke-width="2.2" opacity="0.8"/>
<path d="M775.5,668.5 a7.4,6.7 0 0 1 14.9,-3.0 a6.7,6.0 0 0 1 13.4,5.2" fill="none" stroke="#e5a35c" stroke-width="2.2" opacity="0.8"/>
<path d="M836.5,647.6 a7.9,7.1 0 0 1 15.7,-3.1 a7.1,6.3 0 0 1 14.1,5.5" fill="none" stroke="#e5a35c" stroke-width="2.2" opacity="0.8"/>
<path d="M844.2,690.2 a7.2,6.5 0 0 1 14.4,-2.9 a6.5,5.8 0 0 1 12.9,5.0" fill="none" stroke="#e5a35c" stroke-width="2.2" opacity="0.8"/>
<path d="M724.8,690.1 a6.0,5.4 0 0 1 12.1,-2.4 a5.4,4.8 0 0 1 10.9,4.2" fill="none" stroke="#e5a35c" stroke-width="2.2" opacity="0.8"/>
<path d="M699.6,667.6 a8.1,7.3 0 0 1 16.3,-3.3 a7.3,6.5 0 0 1 14.7,5.7" fill="none" stroke="#e5a35c" stroke-width="2.2" opacity="0.8"/>
<path d="M708.7,628.4 a6.8,6.1 0 0 1 13.6,-2.7 a6.1,5.5 0 0 1 12.3,4.8" fill="none" stroke="#e5a35c" stroke-width="2.2" opacity="0.8"/>
<path d="M816.7,662.3 a9.9,8.9 0 0 1 19.8,-4.0 a8.9,7.9 0 0 1 17.9,6.9" fill="none" stroke="#e5a35c" stroke-width="2.2" opacity="0.8"/>
<path d="M827.2,704.2 a6.1,5.5 0 0 1 12.3,-2.5 a5.5,4.9 0 0 1 11.1,4.3" fill="none" stroke="#e5a35c" stroke-width="2.2" opacity="0.8"/>
<path d="M710.5,625.4 a7.7,7.0 0 0 1 15.5,-3.1 a7.0,6.2 0 0 1 13.9,5.4" fill="none" stroke="#e5a35c" stroke-width="2.2" opacity="0.8"/>
<path d="M738.6,628.5 a8.2,7.4 0 0 1 16.4,-3.3 a7.4,6.5 0 0 1 14.7,5.7" fill="none" stroke="#e5a35c" stroke-width="2.2" opacity="0.8"/>
<path d="M694.8,649.7 a7.0,6.3 0 0 1 14.0,-2.8 a6.3,5.6 0 0 1 12.6,4.9" fill="none" stroke="#e5a35c" stroke-width="2.2" opacity="0.8"/>
<path d="M828.5,658.4 a7.0,6.3 0 0 1 14.1,-2.8 a6.3,5.6 0 0 1 12.7,4.9" fill="none" stroke="#e5a35c" stroke-width="2.2" opacity="0.8"/>
<ellipse cx="716.6" cy="645.3" rx="9.1" ry="3.5" transform="rotate(-3 716.6 645.3)" fill="#fdf0d4" opacity="0.8"/>
<ellipse cx="832.2" cy="635.1" rx="6.7" ry="3.6" transform="rotate(-6 832.2 635.1)" fill="#fdf0d4" opacity="0.8"/>
<ellipse cx="786.8" cy="667.9" rx="8.8" ry="2.9" transform="rotate(-25 786.8 667.9)" fill="#fdf0d4" opacity="0.8"/>
<ellipse cx="712.5" cy="657.3" rx="10.5" ry="3.9" transform="rotate(-16 712.5 657.3)" fill="#fdf0d4" opacity="0.8"/>
<ellipse cx="810.5" cy="673.3" rx="10.1" ry="3.4" transform="rotate(-18 810.5 673.3)" fill="#fdf0d4" opacity="0.8"/>
<ellipse cx="788.3" cy="630.8" rx="6.9" ry="3.5" transform="rotate(-0 788.3 630.8)" fill="#fdf0d4" opacity="0.8"/>
<ellipse cx="792.6" cy="644.1" rx="7.8" ry="3.2" transform="rotate(-6 792.6 644.1)" fill="#fdf0d4" opacity="0.8"/>
<ellipse cx="778.3" cy="675.1" rx="6.8" ry="3.0" transform="rotate(-14 778.3 675.1)" fill="#fdf0d4" opacity="0.8"/>
<ellipse cx="772.2" cy="669.0" rx="10.1" ry="3.9" transform="rotate(-12 772.2 669.0)" fill="#fdf0d4" opacity="0.8"/>
<ellipse cx="714.5" cy="653.5" rx="8.7" ry="3.2" transform="rotate(-22 714.5 653.5)" fill="#fdf0d4" opacity="0.8"/>
<ellipse cx="817.2" cy="672.4" rx="6.5" ry="3.5" transform="rotate(-19 817.2 672.4)" fill="#fdf0d4" opacity="0.8"/>
<ellipse cx="787.7" cy="671.5" rx="10.8" ry="3.5" transform="rotate(-24 787.7 671.5)" fill="#fdf0d4" opacity="0.8"/>
</g>
<path d="M893.0,609.0 C900.8,602.8 916.7,600.8 927.0,603.0 C937.3,605.2 952.0,611.0 955.0,622.0 C958.0,633.0 954.5,656.7 945.0,669.0 C935.5,681.3 909.2,692.8 898.0,696.0 C886.8,699.2 881.0,697.3 878.0,688.0 C875.0,678.7 877.5,653.2 880.0,640.0 C882.5,626.8 885.2,615.2 893.0,609.0Z" fill="url(#fatg)" stroke="#cf8842" stroke-width="2.6"/>
<clipPath id="fc344"><path d="M893.0,609.0 C900.8,602.8 916.7,600.8 927.0,603.0 C937.3,605.2 952.0,611.0 955.0,622.0 C958.0,633.0 954.5,656.7 945.0,669.0 C935.5,681.3 909.2,692.8 898.0,696.0 C886.8,699.2 881.0,697.3 878.0,688.0 C875.0,678.7 877.5,653.2 880.0,640.0 C882.5,626.8 885.2,615.2 893.0,609.0Z"/></clipPath><g clip-path="url(#fc344)">
<path d="M933.8,630.4 a7.5,6.8 0 0 1 15.1,-3.0 a6.8,6.0 0 0 1 13.6,5.3" fill="none" stroke="#e5a35c" stroke-width="2.2" opacity="0.8"/>
<path d="M927.6,640.5 a7.1,6.4 0 0 1 14.2,-2.8 a6.4,5.7 0 0 1 12.8,5.0" fill="none" stroke="#e5a35c" stroke-width="2.2" opacity="0.8"/>
<path d="M936.6,687.2 a7.3,6.5 0 0 1 14.5,-2.9 a6.5,5.8 0 0 1 13.1,5.1" fill="none" stroke="#e5a35c" stroke-width="2.2" opacity="0.8"/>
<path d="M895.2,637.9 a6.5,5.9 0 0 1 13.1,-2.6 a5.9,5.2 0 0 1 11.7,4.6" fill="none" stroke="#e5a35c" stroke-width="2.2" opacity="0.8"/>
<path d="M884.6,689.9 a6.3,5.7 0 0 1 12.6,-2.5 a5.7,5.1 0 0 1 11.4,4.4" fill="none" stroke="#e5a35c" stroke-width="2.2" opacity="0.8"/>
<path d="M883.1,631.8 a6.3,5.7 0 0 1 12.6,-2.5 a5.7,5.1 0 0 1 11.4,4.4" fill="none" stroke="#e5a35c" stroke-width="2.2" opacity="0.8"/>
<path d="M899.8,672.2 a9.4,8.4 0 0 1 18.7,-3.7 a8.4,7.5 0 0 1 16.8,6.5" fill="none" stroke="#e5a35c" stroke-width="2.2" opacity="0.8"/>
<path d="M914.6,677.8 a6.0,5.4 0 0 1 12.0,-2.4 a5.4,4.8 0 0 1 10.8,4.2" fill="none" stroke="#e5a35c" stroke-width="2.2" opacity="0.8"/>
<path d="M887.2,688.5 a6.3,5.6 0 0 1 12.6,-2.5 a5.6,5.0 0 0 1 11.3,4.4" fill="none" stroke="#e5a35c" stroke-width="2.2" opacity="0.8"/>
<path d="M884.5,652.9 a7.1,6.4 0 0 1 14.1,-2.8 a6.4,5.7 0 0 1 12.7,5.0" fill="none" stroke="#e5a35c" stroke-width="2.2" opacity="0.8"/>
<ellipse cx="919.3" cy="616.6" rx="7.2" ry="3.9" transform="rotate(-26 919.3 616.6)" fill="#fdf0d4" opacity="0.8"/>
<ellipse cx="941.5" cy="623.3" rx="11.0" ry="3.5" transform="rotate(-11 941.5 623.3)" fill="#fdf0d4" opacity="0.8"/>
<ellipse cx="894.5" cy="617.0" rx="9.8" ry="2.8" transform="rotate(-24 894.5 617.0)" fill="#fdf0d4" opacity="0.8"/>
<ellipse cx="936.4" cy="658.9" rx="6.2" ry="3.9" transform="rotate(-14 936.4 658.9)" fill="#fdf0d4" opacity="0.8"/>
<ellipse cx="909.3" cy="619.6" rx="7.9" ry="4.0" transform="rotate(-22 909.3 619.6)" fill="#fdf0d4" opacity="0.8"/>
</g>
<path d="M602.0,541.0 C599.7,550.8 587.3,581.8 588.0,600.0 C588.7,618.2 595.7,635.3 606.0,650.0 C616.3,664.7 634.3,678.7 650.0,688.0 C665.7,697.3 678.5,701.0 700.0,706.0 C721.5,711.0 745.2,717.7 779.0,718.0 C812.8,718.3 870.0,714.5 903.0,708.0 C936.0,701.5 956.5,693.3 977.0,679.0 C997.5,664.7 1014.5,641.0 1026.0,622.0 C1037.5,603.0 1042.2,589.7 1046.0,565.0 C1049.8,540.3 1049.3,498.5 1049.0,474.0 C1048.7,449.5 1046.3,435.0 1044.0,418.0 C1041.7,401.0 1038.8,386.7 1035.0,372.0 C1031.2,357.3 1027.3,343.7 1021.0,330.0 C1014.7,316.3 1008.5,301.2 997.0,290.0 C985.5,278.8 959.5,267.5 952.0,263.0" fill="none" stroke="#a9a7b7" stroke-width="10"/>
<path d="M602.0,541.0 C599.7,550.8 587.3,581.8 588.0,600.0 C588.7,618.2 595.7,635.3 606.0,650.0 C616.3,664.7 634.3,678.7 650.0,688.0 C665.7,697.3 678.5,701.0 700.0,706.0 C721.5,711.0 745.2,717.7 779.0,718.0 C812.8,718.3 870.0,714.5 903.0,708.0 C936.0,701.5 956.5,693.3 977.0,679.0 C997.5,664.7 1014.5,641.0 1026.0,622.0 C1037.5,603.0 1042.2,589.7 1046.0,565.0 C1049.8,540.3 1049.3,498.5 1049.0,474.0 C1048.7,449.5 1046.3,435.0 1044.0,418.0 C1041.7,401.0 1038.8,386.7 1035.0,372.0 C1031.2,357.3 1027.3,343.7 1021.0,330.0 C1014.7,316.3 1008.5,301.2 997.0,290.0 C985.5,278.8 959.5,267.5 952.0,263.0" fill="none" stroke="#eeedf2" stroke-width="6"/>
<path d="M1060.4,443.8 C1060.6,448.9 1061.7,464.4 1062.0,474.5 C1062.3,484.6 1062.3,494.5 1062.2,504.5 C1062.1,514.5 1062.1,524.5 1061.6,534.7 C1061.1,544.9 1060.6,555.3 1059.0,565.7 C1057.5,576.0 1055.6,586.7 1052.2,596.8 C1048.8,606.9 1043.7,617.1 1038.5,626.3 C1033.4,635.6 1027.7,644.0 1021.3,652.3 C1015.0,660.6 1008.3,669.0 1000.5,676.3 C992.7,683.6 983.7,690.5 974.6,696.1 C965.4,701.7 955.4,706.2 945.6,710.0 C935.7,713.7 925.5,716.3 915.4,718.7 C905.3,721.0 893.9,722.4 885.0,724.1 C876.1,725.8 869.5,727.8 862.0,729.0 C854.5,730.2 846.0,729.7 840.0,731.0 C834.0,732.3 829.2,734.3 826.0,737.0 C822.8,739.7 820.8,743.7 821.0,747.0 C821.2,750.3 823.5,754.7 827.0,757.0 C830.5,759.3 834.0,760.3 842.0,761.0 C850.0,761.7 863.7,759.2 875.0,761.0 C886.3,762.8 899.3,767.3 910.0,772.0 C920.7,776.7 931.7,783.3 939.0,789.0 C946.3,794.7 950.0,795.5 954.0,806.0 C958.0,816.5 957.2,840.2 963.0,852.0 C968.8,863.8 979.5,872.3 989.0,877.0 C998.5,881.7 1009.5,883.2 1020.0,880.0 C1030.5,876.8 1042.5,866.8 1052.0,858.0 C1061.5,849.2 1066.5,839.7 1077.0,827.0 C1087.5,814.3 1104.5,793.2 1115.0,782.0 C1125.5,770.8 1130.5,767.3 1140.0,760.0 C1149.5,752.7 1164.5,742.8 1172.0,738.0 C1179.5,733.2 1182.8,732.2 1185.0,731.0" fill="none" stroke="#857e6a" stroke-width="3.2"/>
<path d="M583,510 C592,502 602,504 606,512 C610,530 604,560 596,590 L586,626 L576,622 C570,600 560,580 537,560 C555,552 575,535 583,510Z" fill="#dfe1e8"/>
<path d="M588.0,510.0 Q580.0,539.0 537.0,560.0" stroke="#f4f4f8" stroke-width="2.2" fill="none"/>
<path d="M588.8,510.7 Q581.3,540.6 539.6,563.8" stroke="#b9bdca" stroke-width="2.2" fill="none"/>
<path d="M589.6,511.4 Q582.6,542.3 542.3,567.5" stroke="#f4f4f8" stroke-width="2.2" fill="none"/>
<path d="M590.5,512.1 Q583.9,543.9 545.0,571.3" stroke="#b9bdca" stroke-width="2.2" fill="none"/>
<path d="M591.3,512.8 Q585.2,545.6 547.7,575.1" stroke="#f4f4f8" stroke-width="2.2" fill="none"/>
<path d="M592.1,513.5 Q586.5,547.2 550.5,578.8" stroke="#b9bdca" stroke-width="2.2" fill="none"/>
<path d="M592.9,514.2 Q587.8,548.9 553.3,582.6" stroke="#f4f4f8" stroke-width="2.2" fill="none"/>
<path d="M593.8,514.9 Q589.1,550.5 556.1,586.4" stroke="#b9bdca" stroke-width="2.2" fill="none"/>
<path d="M594.6,515.6 Q590.4,552.2 559.0,590.1" stroke="#f4f4f8" stroke-width="2.2" fill="none"/>
<path d="M595.4,516.4 Q591.6,553.8 562.0,593.9" stroke="#b9bdca" stroke-width="2.2" fill="none"/>
<path d="M596.2,517.1 Q592.9,555.5 565.0,597.6" stroke="#f4f4f8" stroke-width="2.2" fill="none"/>
<path d="M597.1,517.8 Q594.2,557.1 568.0,601.4" stroke="#b9bdca" stroke-width="2.2" fill="none"/>
<path d="M597.9,518.5 Q595.5,558.8 571.0,605.2" stroke="#f4f4f8" stroke-width="2.2" fill="none"/>
<path d="M598.7,519.2 Q596.8,560.4 574.2,608.9" stroke="#b9bdca" stroke-width="2.2" fill="none"/>
<path d="M599.5,519.9 Q598.1,562.1 577.3,612.7" stroke="#f4f4f8" stroke-width="2.2" fill="none"/>
<path d="M600.4,520.6 Q599.4,563.7 580.5,616.5" stroke="#b9bdca" stroke-width="2.2" fill="none"/>
<path d="M601.2,521.3 Q600.7,565.4 583.7,620.2" stroke="#f4f4f8" stroke-width="2.2" fill="none"/>
<path d="M602.0,522.0 Q602.0,567.0 587.0,624.0" stroke="#b9bdca" stroke-width="2.2" fill="none"/>
<path d="M583,512 C575,535 560,550 537,560" fill="none" stroke="#a9adb9" stroke-width="2"/>
<path d="M448.0,80.0 C444.7,97.8 429.8,157.7 428.0,187.0 C426.2,216.3 433.0,236.2 437.0,256.0 C441.0,275.8 449.3,290.5 452.0,306.0 C454.7,321.5 454.5,335.2 453.0,349.0 C451.5,362.8 449.7,373.3 443.0,389.0 C436.3,404.7 426.3,422.0 413.0,443.0 C399.7,464.0 380.7,488.8 363.0,515.0 C345.3,541.2 319.7,580.5 307.0,600.0 C294.3,619.5 294.3,619.8 287.0,632.0 C279.7,644.2 272.0,660.5 263.0,673.0 C254.0,685.5 241.7,697.2 233.0,707.0 C224.3,716.8 217.0,724.2 211.0,732.0 C205.0,739.8 200.5,745.5 197.0,754.0 C193.5,762.5 191.0,773.3 190.0,783.0 C189.0,792.7 189.5,803.0 191.0,812.0 C192.5,821.0 193.0,827.7 199.0,837.0 C205.0,846.3 214.3,858.7 227.0,868.0 C239.7,877.3 260.2,886.7 275.0,893.0 C289.8,899.3 305.0,901.3 316.0,906.0 C327.0,910.7 334.2,914.2 341.0,921.0 C347.8,927.8 353.5,938.0 357.0,947.0 C360.5,956.0 362.0,965.5 362.0,975.0 C362.0,984.5 357.8,999.2 357.0,1004.0" fill="none" stroke="#8d5b44" stroke-width="3.6" stroke-linecap="round"/>
<path d="M294,870 C296,856 332,853 366,863 C393,872 410,887 414,900 C404,898 392,892 372,888 C345,885 318,891 302,885 C293,881 292,875 294,870Z" fill="#c79e88"/>
<path d="M300,876 C318,884 350,880 380,886 C395,890 405,895 412,899 C400,888 380,876 350,870 C325,866 305,868 300,876Z" fill="#b68a74" opacity="0.7"/>
<path d="M294,872 C294,856 332,853 366,863 C393,872 410,887 414,900" fill="none" stroke="#8d5b44" stroke-width="3.4" stroke-linecap="round"/>
<path d="M487,785 C504,805 510,840 502,872 C494,898 465,912 436,917" fill="none" stroke="#93604a" stroke-width="3" stroke-linecap="round"/>
<path d="M0.0,-100.0 C256.0,-130.7 1280.0,-130.0 1536.0,-100.0 C1792.0,-70.0 1600.3,48.3 1536.0,80.0 C1471.7,111.7 1239.3,88.7 1150.0,90.0 C1060.7,91.3 1075.0,88.7 1000.0,88.0 C925.0,87.3 791.7,86.7 700.0,86.0 C608.3,85.3 566.7,84.3 450.0,84.0 C333.3,83.7 75.0,114.7 0.0,84.0 C-75.0,53.3 -256.0,-69.3 0.0,-100.0Z" fill="#fff" filter="url(#b10)"/>
<path d="M1536.0,-50.0 C1446.7,-241.7 1082.7,-73.0 1000.0,-50.0 C917.3,-27.0 1024.2,61.0 1040.0,88.0 C1055.8,115.0 1080.3,96.7 1095.0,112.0 C1109.7,127.3 1120.2,148.7 1128.0,180.0 C1135.8,211.3 1138.0,260.0 1142.0,300.0 C1146.0,340.0 1149.0,376.7 1152.0,420.0 C1155.0,463.3 1157.7,521.7 1160.0,560.0 C1162.3,598.3 1162.7,626.7 1166.0,650.0 C1169.3,673.3 1174.7,680.8 1180.0,700.0 C1185.3,719.2 1198.8,739.2 1198.0,765.0 C1197.2,790.8 1193.0,825.8 1175.0,855.0 C1157.0,884.2 1119.2,915.8 1090.0,940.0 C1060.8,964.2 1015.0,973.3 1000.0,1000.0 C985.0,1026.7 910.7,1083.3 1000.0,1100.0 C1089.3,1116.7 1446.7,1291.7 1536.0,1100.0 C1625.3,908.3 1625.3,141.7 1536.0,-50.0Z" fill="#fff" filter="url(#b16)"/>
<path d="M0.0,1000.0 C63.3,976.8 296.7,993.3 380.0,985.0 C463.3,976.7 446.7,958.3 500.0,950.0 C553.3,941.7 616.7,939.2 700.0,935.0 C783.3,930.8 925.0,932.5 1000.0,925.0 C1075.0,917.5 1100.0,902.5 1150.0,890.0 C1200.0,877.5 1235.7,855.0 1300.0,850.0 C1364.3,845.0 1496.7,814.3 1536.0,860.0 C1575.3,905.7 1792.0,1080.0 1536.0,1124.0 C1280.0,1168.0 256.0,1144.7 0.0,1124.0 C-256.0,1103.3 -63.3,1023.2 0.0,1000.0Z" fill="#fff" filter="url(#b30)"/>
<ellipse cx="1095" cy="95" rx="70" ry="28" fill="#fff" filter="url(#b10)"/>
<line x1="395" y1="332" x2="585" y2="540" stroke="#111" stroke-width="2.6"/>
<line x1="356" y1="419" x2="524" y2="507" stroke="#111" stroke-width="2.6"/>
<line x1="339" y1="502" x2="557" y2="576" stroke="#111" stroke-width="2.6"/>
<line x1="247" y1="616" x2="538" y2="616" stroke="#111" stroke-width="2.6"/>
<line x1="638" y1="609" x2="577" y2="965" stroke="#111" stroke-width="2.6"/>
<line x1="772" y1="676" x2="767" y2="965" stroke="#111" stroke-width="2.6"/>
<line x1="915" y1="653" x2="925" y2="965" stroke="#111" stroke-width="2.6"/>
<line x1="1110" y1="182" x2="980" y2="336" stroke="#111" stroke-width="2.6"/>
<line x1="1144" y1="231" x2="987" y2="400" stroke="#111" stroke-width="2.6"/>
<line x1="1177" y1="326" x2="1038" y2="465" stroke="#111" stroke-width="2.6"/>
<line x1="1007" y1="535" x2="1191" y2="542" stroke="#111" stroke-width="2.6"/>
<line x1="989" y1="597" x2="1192" y2="652" stroke="#111" stroke-width="2.6"/>
<line x1="1046" y1="746" x2="1187" y2="823" stroke="#111" stroke-width="2.6"/>
<line x1="999" y1="796" x2="1127" y2="906" stroke="#111" stroke-width="2.6"/>
<line x1="1192" y1="423" x2="1032" y2="508" stroke="#111" stroke-width="4.4"/>
<path d="M1012,519 L1026,492 L1044,521 Z" fill="#111"/>
<g style="font-family:'Liberation Sans', sans-serif">
<text x="54" y="27" font-size="43" font-weight="normal" fill="#141414" stroke="#141414" stroke-width="0.9" textLength="1428" lengthAdjust="spacing">Anatomy of the Under-Eye: Tear Trough Ligament &amp; Orbital Fat Pads</text>
<text x="67" y="306" font-size="37" font-weight="bold" fill="#141414" stroke="#141414" stroke-width="0.3" textLength="315" lengthAdjust="spacingAndGlyphs">Tear Trough Ligament</text>
<text x="83" y="346" font-size="37" font-weight="normal" fill="#141414" stroke="#141414" stroke-width="0.9" textLength="297" lengthAdjust="spacingAndGlyphs">(Nasojugal Ligament)</text>
<text x="94" y="426" font-size="37" font-weight="normal" fill="#141414" stroke="#141414" stroke-width="0.9" textLength="248" lengthAdjust="spacingAndGlyphs">Nasojugal Groove</text>
<text x="71" y="510" font-size="37" font-weight="normal" fill="#141414" stroke="#141414" stroke-width="0.9" textLength="257" lengthAdjust="spacingAndGlyphs">Inferior Orbital Rim</text>
<text x="176" y="625" font-size="37" font-weight="normal" fill="#141414" stroke="#141414" stroke-width="0.9" textLength="58" lengthAdjust="spacingAndGlyphs">Skin</text>
<text x="1118" y="180" font-size="37" font-weight="normal" fill="#141414" stroke="#141414" stroke-width="0.9" textLength="208" lengthAdjust="spacingAndGlyphs">Orbital fat pads</text>
<text x="1153" y="231" font-size="37" font-weight="normal" fill="#141414" stroke="#141414" stroke-width="0.9" textLength="331" lengthAdjust="spacingAndGlyphs">Orbicularis Oculi Muscle</text>
<text x="1187" y="334" font-size="37" font-weight="normal" fill="#141414" stroke="#141414" stroke-width="0.9" textLength="205" lengthAdjust="spacingAndGlyphs">Orbital Septum</text>
<text x="1203" y="413" font-size="37" font-weight="normal" fill="#141414" stroke="#141414" stroke-width="0.9" textLength="201" lengthAdjust="spacingAndGlyphs">Orbital Fat Pad</text>
<text x="1203" y="453" font-size="37" font-weight="normal" fill="#141414" stroke="#141414" stroke-width="0.9" textLength="267" lengthAdjust="spacingAndGlyphs">Descent/Herniation</text>
<text x="1203" y="558" font-size="37" font-weight="normal" fill="#141414" stroke="#141414" stroke-width="0.9" textLength="177" lengthAdjust="spacingAndGlyphs">Preseptal Fat</text>
<text x="1203" y="660" font-size="37" font-weight="normal" fill="#141414" stroke="#141414" stroke-width="0.9" textLength="79" lengthAdjust="spacingAndGlyphs">SOOF</text>
<text x="1204" y="699" font-size="37" font-weight="normal" fill="#141414" stroke="#141414" stroke-width="0.9" textLength="216" lengthAdjust="spacingAndGlyphs">(Suborbicularis</text>
<text x="1204" y="739" font-size="37" font-weight="normal" fill="#141414" stroke="#141414" stroke-width="0.9" textLength="133" lengthAdjust="spacingAndGlyphs">Oculi Fat)</text>
<text x="1197" y="840" font-size="37" font-weight="normal" fill="#141414" stroke="#141414" stroke-width="0.9" textLength="223" lengthAdjust="spacingAndGlyphs">Zygomatic Bone</text>
<text x="1137" y="926" font-size="37" font-weight="normal" fill="#141414" stroke="#141414" stroke-width="0.9" textLength="97" lengthAdjust="spacingAndGlyphs">Maxilla</text>
<text x="1137" y="965" font-size="37" font-weight="normal" fill="#141414" stroke="#141414" stroke-width="0.9" textLength="115" lengthAdjust="spacingAndGlyphs">(Maxilla)</text>
<text x="527" y="1004.5" font-size="37" font-weight="normal" fill="#141414" stroke="#141414" stroke-width="0.9" textLength="90" lengthAdjust="spacingAndGlyphs">Medial</text>
<text x="709" y="1004.5" font-size="37" font-weight="normal" fill="#141414" stroke="#141414" stroke-width="0.9" textLength="95" lengthAdjust="spacingAndGlyphs">Central</text>
<text x="890" y="1004.5" font-size="37" font-weight="normal" fill="#141414" stroke="#141414" stroke-width="0.9" textLength="92" lengthAdjust="spacingAndGlyphs">Lateral</text>
<text x="522" y="1044.5" font-size="37" font-weight="normal" fill="#141414" stroke="#141414" stroke-width="0.9" textLength="100" lengthAdjust="spacingAndGlyphs">Fat Pad</text>
<text x="706" y="1044.5" font-size="37" font-weight="normal" fill="#141414" stroke="#141414" stroke-width="0.9" textLength="100" lengthAdjust="spacingAndGlyphs">Fat Pad</text>
<text x="890" y="1044.5" font-size="37" font-weight="normal" fill="#141414" stroke="#141414" stroke-width="0.9" textLength="100" lengthAdjust="spacingAndGlyphs">Fat Pad</text>
</g>
<rect x="1238" y="927" width="283" height="79" rx="9" fill="#fff" stroke="#bdbdbd" stroke-width="2.5"/>
<rect x="1453" y="941" width="52" height="51" rx="4" fill="#000"/>
<path d="M1464,979 L1471,955 L1479,974 L1488,955 L1495,979" fill="none" stroke="#fff" stroke-width="2"/>
<text x="1446" y="960" style="font-family:&quot;Liberation Sans&quot;, sans-serif" font-size="17.6" font-weight="bold" fill="#404040" text-anchor="end">Marc Malek MD</text>
<text x="1446" y="983" style="font-family:&quot;Liberation Sans&quot;, sans-serif" font-size="16.3" fill="#707070" text-anchor="end">www.marcmalekmd.com</text>
</svg>
</body></html>
